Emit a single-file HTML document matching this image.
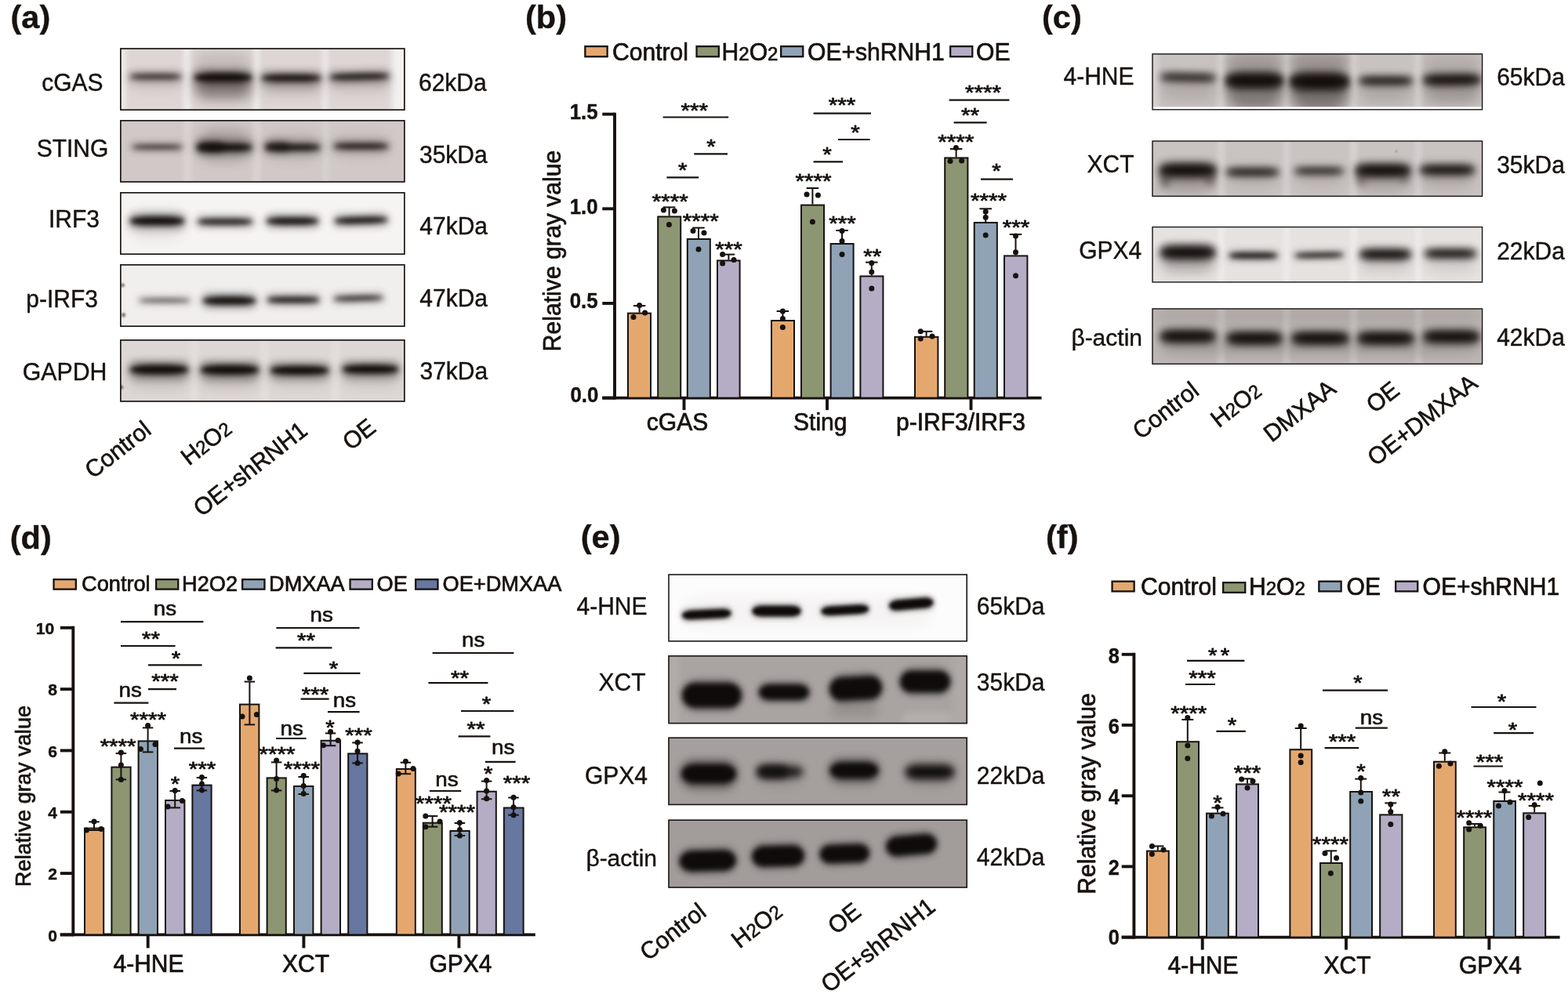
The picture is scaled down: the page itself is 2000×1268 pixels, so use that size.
<!DOCTYPE html>
<html lang="en">
<head>
<meta charset="utf-8">
<title>Figure: cGAS-STING pathway western blots and quantification</title>
<style>
html,body{margin:0;padding:0;background:#ffffff;}
body{width:2000px;height:1268px;}
svg{display:block;font-family:'Liberation Sans', Arial, Helvetica, sans-serif;fill:#17120f;}
</style>
</head>
<body>
<svg width="2000" height="1268" viewBox="0 0 2000 1268" role="img" aria-label="Western blots and bar charts, panels a to f">
<defs>
<filter id="bl1" color-interpolation-filters="sRGB" x="-50%" y="-200%" width="200%" height="500%"><feGaussianBlur color-interpolation-filters="sRGB" stdDeviation="0.8"/></filter>
<filter id="bl2" color-interpolation-filters="sRGB" x="-50%" y="-200%" width="200%" height="500%"><feGaussianBlur color-interpolation-filters="sRGB" stdDeviation="2"/></filter>
<filter id="bl3" color-interpolation-filters="sRGB" x="-50%" y="-200%" width="200%" height="500%"><feGaussianBlur color-interpolation-filters="sRGB" stdDeviation="3"/></filter>
<filter id="bl4" color-interpolation-filters="sRGB" x="-50%" y="-200%" width="200%" height="500%"><feGaussianBlur color-interpolation-filters="sRGB" stdDeviation="4"/></filter>
<filter id="bl5" color-interpolation-filters="sRGB" x="-50%" y="-200%" width="200%" height="500%"><feGaussianBlur color-interpolation-filters="sRGB" stdDeviation="5"/></filter>
<filter id="bl6" color-interpolation-filters="sRGB" x="-50%" y="-200%" width="200%" height="500%"><feGaussianBlur color-interpolation-filters="sRGB" stdDeviation="6"/></filter>
<filter id="bl8" color-interpolation-filters="sRGB" x="-50%" y="-200%" width="200%" height="500%"><feGaussianBlur color-interpolation-filters="sRGB" stdDeviation="8"/></filter>
<filter id="bl10" color-interpolation-filters="sRGB" x="-50%" y="-200%" width="200%" height="500%"><feGaussianBlur color-interpolation-filters="sRGB" stdDeviation="10"/></filter>
<clipPath id="b1"><rect x="153.00" y="61.20" width="363.70" height="79.80"/></clipPath>
<clipPath id="b2"><rect x="153.00" y="153.00" width="363.70" height="79.80"/></clipPath>
<clipPath id="b3"><rect x="153.00" y="245.00" width="363.70" height="80.00"/></clipPath>
<clipPath id="b4"><rect x="153.00" y="337.00" width="363.70" height="80.00"/></clipPath>
<clipPath id="b5"><rect x="153.00" y="433.00" width="363.70" height="79.80"/></clipPath>
<clipPath id="b6"><rect x="1469.30" y="68.20" width="422.00" height="72.30"/></clipPath>
<clipPath id="b7"><rect x="1469.30" y="179.30" width="422.00" height="71.70"/></clipPath>
<clipPath id="b8"><rect x="1469.30" y="288.90" width="422.00" height="71.70"/></clipPath>
<clipPath id="b9"><rect x="1469.30" y="393.20" width="422.00" height="71.80"/></clipPath>
<clipPath id="b10"><rect x="852.20" y="732.20" width="381.80" height="86.50"/></clipPath>
<clipPath id="b11"><rect x="852.20" y="836.00" width="381.80" height="87.40"/></clipPath>
<clipPath id="b12"><rect x="852.20" y="940.40" width="381.80" height="86.80"/></clipPath>
<clipPath id="b13"><rect x="852.20" y="1045.40" width="381.80" height="87.40"/></clipPath>
</defs>
<rect x="0" y="0" width="2000" height="1268" fill="#ffffff"/>
<text x="13.50" y="36.00" font-size="41.5" font-weight="bold" stroke="#17120f" stroke-width="0.4" stroke-linejoin="round">(a)</text>
<text x="670.00" y="36.00" font-size="41.5" font-weight="bold" stroke="#17120f" stroke-width="0.4" stroke-linejoin="round">(b)</text>
<text x="1329.00" y="36.00" font-size="41.5" font-weight="bold" stroke="#17120f" stroke-width="0.4" stroke-linejoin="round">(c)</text>
<text x="12.80" y="699.50" font-size="41.5" font-weight="bold" stroke="#17120f" stroke-width="0.4" stroke-linejoin="round">(d)</text>
<text x="740.80" y="699.00" font-size="41.5" font-weight="bold" stroke="#17120f" stroke-width="0.4" stroke-linejoin="round">(e)</text>
<text x="1334.00" y="699.00" font-size="41.5" font-weight="bold" stroke="#17120f" stroke-width="0.4" stroke-linejoin="round">(f)</text>
<g clip-path="url(#b1)">
<rect x="153.00" y="61.20" width="363.70" height="79.80" fill="#ddd6d4"/>
<rect x="153.00" y="41.20" width="7.00" height="119.80" fill="#f4f2f1" opacity="0.9" filter="url(#bl3)"/>
<rect x="234.00" y="41.20" width="9.00" height="119.80" fill="#f1eeed" opacity="0.9" filter="url(#bl3)"/>
<rect x="323.00" y="41.20" width="8.00" height="119.80" fill="#f1eeed" opacity="0.9" filter="url(#bl3)"/>
<rect x="411.00" y="41.20" width="7.00" height="119.80" fill="#f1eeed" opacity="0.8" filter="url(#bl3)"/>
<rect x="500.00" y="41.20" width="20.00" height="119.80" fill="#f3f1f0" opacity="1" filter="url(#bl4)"/>
<rect x="248.00" y="96.00" width="73.00" height="30.00" rx="15.00" fill="#3a3230" opacity="0.55" filter="url(#bl8)"/>
<rect x="334.00" y="98.00" width="75.00" height="20.00" rx="10.00" fill="#3a3230" opacity="0.28" filter="url(#bl8)"/>
<rect x="421.00" y="97.00" width="75.00" height="17.00" rx="8.50" fill="#3a3230" opacity="0.22" filter="url(#bl8)"/>
<rect x="166.00" y="97.00" width="65.00" height="15.00" rx="7.50" fill="#3a3230" opacity="0.15" filter="url(#bl8)"/>
<rect x="248.00" y="66.00" width="73.00" height="30.00" rx="15.00" fill="#3a3230" opacity="0.15" filter="url(#bl8)"/>
<g>
<rect x="163.00" y="90.35" width="71.00" height="14.90" rx="7.45" fill="#120d0b" opacity="0.245" filter="url(#bl5)"/>
<rect x="166.00" y="94.30" width="65.00" height="7.00" rx="23.21" ry="3.50" fill="#120d0b" opacity="0.7" filter="url(#bl3)"/>
</g>
<g>
<rect x="245.00" y="87.95" width="79.00" height="21.70" rx="10.85" fill="#120d0b" opacity="0.350" filter="url(#bl5)"/>
<rect x="248.00" y="93.30" width="73.00" height="11.00" rx="26.07" ry="5.50" fill="#120d0b" opacity="1.0" filter="url(#bl3)"/>
</g>
<g>
<rect x="331.00" y="90.35" width="81.00" height="18.30" rx="9.15" fill="#120d0b" opacity="0.322" filter="url(#bl5)"/>
<rect x="334.00" y="95.00" width="75.00" height="9.00" rx="26.79" ry="4.50" fill="#120d0b" opacity="0.92" filter="url(#bl3)"/>
</g>
<g transform="rotate(-1.2 458.50 97.80)">
<rect x="418.00" y="89.50" width="81.00" height="16.60" rx="8.30" fill="#120d0b" opacity="0.297" filter="url(#bl5)"/>
<rect x="421.00" y="93.80" width="75.00" height="8.00" rx="26.79" ry="4.00" fill="#120d0b" opacity="0.85" filter="url(#bl3)"/>
</g>
</g>
<rect x="153.85" y="62.05" width="362.00" height="78.10" fill="none" stroke="#1c1816" stroke-width="1.7"/>
<g clip-path="url(#b2)">
<rect x="153.00" y="153.00" width="363.70" height="79.80" fill="#d0c9c7"/>
<rect x="234.00" y="133.00" width="10.00" height="119.80" fill="#dcd6d4" opacity="0.8" filter="url(#bl3)"/>
<rect x="323.00" y="133.00" width="9.00" height="119.80" fill="#dcd6d4" opacity="0.8" filter="url(#bl3)"/>
<rect x="411.00" y="133.00" width="9.00" height="119.80" fill="#dad4d2" opacity="0.7" filter="url(#bl3)"/>
<rect x="252.00" y="165.00" width="69.00" height="40.00" rx="20.00" fill="#3a3230" opacity="0.28" filter="url(#bl8)"/>
<rect x="339.00" y="172.00" width="69.00" height="30.00" rx="15.00" fill="#3a3230" opacity="0.18" filter="url(#bl8)"/>
<rect x="426.00" y="172.00" width="69.00" height="28.00" rx="14.00" fill="#3a3230" opacity="0.12" filter="url(#bl8)"/>
<g>
<rect x="166.00" y="181.32" width="69.00" height="12.35" rx="6.17" fill="#120d0b" opacity="0.245" filter="url(#bl5)"/>
<rect x="169.00" y="184.75" width="63.00" height="5.50" rx="22.50" ry="2.75" fill="#120d0b" opacity="0.7" filter="url(#bl3)"/>
</g>
<g>
<rect x="249.00" y="178.85" width="75.00" height="18.30" rx="9.15" fill="#120d0b" opacity="0.350" filter="url(#bl5)"/>
<rect x="252.00" y="183.50" width="69.00" height="9.00" rx="24.64" ry="4.50" fill="#120d0b" opacity="1.0" filter="url(#bl3)"/>
</g>
<g>
<rect x="249.00" y="177.50" width="39.00" height="20.00" rx="10.00" fill="#120d0b" opacity="0.210" filter="url(#bl5)"/>
<rect x="252.00" y="182.50" width="33.00" height="10.00" rx="11.79" ry="5.00" fill="#120d0b" opacity="0.6" filter="url(#bl3)"/>
</g>
<g>
<rect x="336.00" y="179.70" width="75.00" height="16.60" rx="8.30" fill="#120d0b" opacity="0.315" filter="url(#bl5)"/>
<rect x="339.00" y="184.00" width="69.00" height="8.00" rx="24.64" ry="4.00" fill="#120d0b" opacity="0.9" filter="url(#bl3)"/>
</g>
<g>
<rect x="336.00" y="177.85" width="35.00" height="18.30" rx="9.15" fill="#120d0b" opacity="0.175" filter="url(#bl5)"/>
<rect x="339.00" y="182.50" width="29.00" height="9.00" rx="10.36" ry="4.50" fill="#120d0b" opacity="0.5" filter="url(#bl3)"/>
</g>
<g>
<rect x="423.00" y="179.05" width="75.00" height="14.90" rx="7.45" fill="#120d0b" opacity="0.297" filter="url(#bl5)"/>
<rect x="426.00" y="183.00" width="69.00" height="7.00" rx="24.64" ry="3.50" fill="#120d0b" opacity="0.85" filter="url(#bl3)"/>
</g>
</g>
<rect x="153.85" y="153.85" width="362.00" height="78.10" fill="none" stroke="#1c1816" stroke-width="1.7"/>
<g clip-path="url(#b3)">
<rect x="153.00" y="245.00" width="363.70" height="80.00" fill="#f6f4f3"/>
<rect x="166.00" y="270.00" width="69.00" height="35.00" rx="17.50" fill="#3a3230" opacity="0.1" filter="url(#bl8)"/>
<g>
<rect x="163.00" y="270.95" width="75.00" height="21.70" rx="10.85" fill="#120d0b" opacity="0.343" filter="url(#bl5)"/>
<rect x="166.00" y="276.30" width="69.00" height="11.00" rx="24.64" ry="5.50" fill="#120d0b" opacity="0.98" filter="url(#bl3)"/>
</g>
<g>
<rect x="249.00" y="274.50" width="76.00" height="16.60" rx="8.30" fill="#120d0b" opacity="0.297" filter="url(#bl5)"/>
<rect x="252.00" y="278.80" width="70.00" height="8.00" rx="25.00" ry="4.00" fill="#120d0b" opacity="0.85" filter="url(#bl3)"/>
</g>
<g>
<rect x="337.00" y="272.43" width="72.00" height="19.15" rx="9.57" fill="#120d0b" opacity="0.326" filter="url(#bl5)"/>
<rect x="340.00" y="277.25" width="66.00" height="9.50" rx="23.57" ry="4.75" fill="#120d0b" opacity="0.93" filter="url(#bl3)"/>
</g>
<g transform="rotate(-1.5 460.50 281.00)">
<rect x="424.00" y="272.27" width="73.00" height="17.45" rx="8.72" fill="#120d0b" opacity="0.315" filter="url(#bl5)"/>
<rect x="427.00" y="276.75" width="67.00" height="8.50" rx="23.93" ry="4.25" fill="#120d0b" opacity="0.9" filter="url(#bl3)"/>
</g>
</g>
<rect x="153.85" y="245.85" width="362.00" height="78.30" fill="none" stroke="#1c1816" stroke-width="1.7"/>
<g clip-path="url(#b4)">
<rect x="153.00" y="337.00" width="363.70" height="80.00" fill="#f1efee"/>
<g>
<rect x="175.00" y="377.55" width="70.00" height="11.50" rx="5.75" fill="#120d0b" opacity="0.196" filter="url(#bl5)"/>
<rect x="178.00" y="380.80" width="64.00" height="5.00" rx="22.86" ry="2.50" fill="#120d0b" opacity="0.56" filter="url(#bl3)"/>
</g>
<g>
<rect x="256.00" y="373.18" width="73.00" height="20.85" rx="10.42" fill="#120d0b" opacity="0.339" filter="url(#bl5)"/>
<rect x="259.00" y="378.35" width="67.00" height="10.50" rx="23.93" ry="5.25" fill="#120d0b" opacity="0.97" filter="url(#bl3)"/>
</g>
<g>
<rect x="338.00" y="374.62" width="72.00" height="15.75" rx="7.88" fill="#120d0b" opacity="0.308" filter="url(#bl5)"/>
<rect x="341.00" y="378.75" width="66.00" height="7.50" rx="23.57" ry="3.75" fill="#120d0b" opacity="0.88" filter="url(#bl3)"/>
</g>
<g transform="rotate(-1.5 457.00 380.50)">
<rect x="423.00" y="373.48" width="68.00" height="14.05" rx="7.02" fill="#120d0b" opacity="0.262" filter="url(#bl5)"/>
<rect x="426.00" y="377.25" width="62.00" height="6.50" rx="22.14" ry="3.25" fill="#120d0b" opacity="0.75" filter="url(#bl3)"/>
</g>
<circle cx="156.5" cy="363.7" r="2.5" fill="#6a6260" opacity="0.8" filter="url(#bl1)"/>
<circle cx="157.5" cy="401.7" r="2.8" fill="#6a6260" opacity="0.8" filter="url(#bl1)"/>
</g>
<rect x="153.85" y="337.85" width="362.00" height="78.30" fill="none" stroke="#1c1816" stroke-width="1.7"/>
<g clip-path="url(#b5)">
<rect x="153.00" y="433.00" width="363.70" height="79.80" fill="#ddd7d5"/>
<rect x="243.00" y="413.00" width="10.00" height="119.80" fill="#ebe7e6" opacity="0.45" filter="url(#bl3)"/>
<rect x="332.00" y="413.00" width="10.00" height="119.80" fill="#ebe7e6" opacity="0.45" filter="url(#bl3)"/>
<rect x="423.00" y="413.00" width="10.00" height="119.80" fill="#ebe7e6" opacity="0.45" filter="url(#bl3)"/>
<rect x="166.00" y="470.00" width="74.00" height="22.00" rx="11.00" fill="#3a3230" opacity="0.22" filter="url(#bl8)"/>
<rect x="256.00" y="470.00" width="74.00" height="22.00" rx="11.00" fill="#3a3230" opacity="0.25" filter="url(#bl8)"/>
<rect x="345.00" y="470.00" width="74.00" height="20.00" rx="10.00" fill="#3a3230" opacity="0.2" filter="url(#bl8)"/>
<rect x="437.00" y="470.00" width="71.00" height="20.00" rx="10.00" fill="#3a3230" opacity="0.2" filter="url(#bl8)"/>
<g>
<rect x="163.00" y="459.80" width="80.00" height="23.40" rx="11.70" fill="#120d0b" opacity="0.350" filter="url(#bl5)"/>
<rect x="166.00" y="465.50" width="74.00" height="12.00" rx="26.43" ry="6.00" fill="#120d0b" opacity="1.0" filter="url(#bl3)"/>
</g>
<g>
<rect x="253.00" y="460.10" width="80.00" height="23.40" rx="11.70" fill="#120d0b" opacity="0.350" filter="url(#bl5)"/>
<rect x="256.00" y="465.80" width="74.00" height="12.00" rx="26.43" ry="6.00" fill="#120d0b" opacity="1.0" filter="url(#bl3)"/>
</g>
<g>
<rect x="342.00" y="461.65" width="80.00" height="21.70" rx="10.85" fill="#120d0b" opacity="0.350" filter="url(#bl5)"/>
<rect x="345.00" y="467.00" width="74.00" height="11.00" rx="26.43" ry="5.50" fill="#120d0b" opacity="1.0" filter="url(#bl3)"/>
</g>
<g>
<rect x="434.00" y="460.15" width="77.00" height="21.70" rx="10.85" fill="#120d0b" opacity="0.350" filter="url(#bl5)"/>
<rect x="437.00" y="465.50" width="71.00" height="11.00" rx="25.36" ry="5.50" fill="#120d0b" opacity="1.0" filter="url(#bl3)"/>
</g>
<circle cx="154.5" cy="494" r="2.5" fill="#4a4240" opacity="0.8" filter="url(#bl1)"/>
</g>
<rect x="153.85" y="433.85" width="362.00" height="78.10" fill="none" stroke="#1c1816" stroke-width="1.7"/>
<text x="131.60" y="116.00" font-size="30" text-anchor="end" transform="translate(131.60 116.00) scale(1.0 1.02) translate(-131.60 -116.00)" stroke="#17120f" stroke-width="0.4" stroke-linejoin="round">cGAS</text>
<text x="138.30" y="199.80" font-size="30" text-anchor="end" transform="translate(138.30 199.80) scale(1.0 1.02) translate(-138.30 -199.80)" stroke="#17120f" stroke-width="0.4" stroke-linejoin="round">STING</text>
<text x="127.00" y="290.00" font-size="30" text-anchor="end" transform="translate(127.00 290.00) scale(1.0 1.02) translate(-127.00 -290.00)" stroke="#17120f" stroke-width="0.4" stroke-linejoin="round">IRF3</text>
<text x="125.00" y="392.00" font-size="30" text-anchor="end" transform="translate(125.00 392.00) scale(1.0 1.02) translate(-125.00 -392.00)" stroke="#17120f" stroke-width="0.4" stroke-linejoin="round">p-IRF3</text>
<text x="136.50" y="485.00" font-size="30.3" text-anchor="end" transform="translate(136.50 485.00) scale(1.0 1.02) translate(-136.50 -485.00)" stroke="#17120f" stroke-width="0.4" stroke-linejoin="round">GAPDH</text>
<text x="534.00" y="116.00" font-size="30" transform="translate(534.00 116.00) scale(1.0 1.02) translate(-534.00 -116.00)" stroke="#17120f" stroke-width="0.4" stroke-linejoin="round">62kDa</text>
<text x="535.00" y="207.60" font-size="30" transform="translate(535.00 207.60) scale(1.0 1.02) translate(-535.00 -207.60)" stroke="#17120f" stroke-width="0.4" stroke-linejoin="round">35kDa</text>
<text x="535.30" y="299.30" font-size="30" transform="translate(535.30 299.30) scale(1.0 1.02) translate(-535.30 -299.30)" stroke="#17120f" stroke-width="0.4" stroke-linejoin="round">47kDa</text>
<text x="535.30" y="391.30" font-size="30" transform="translate(535.30 391.30) scale(1.0 1.02) translate(-535.30 -391.30)" stroke="#17120f" stroke-width="0.4" stroke-linejoin="round">47kDa</text>
<text x="535.50" y="484.40" font-size="30" transform="translate(535.50 484.40) scale(1.0 1.02) translate(-535.50 -484.40)" stroke="#17120f" stroke-width="0.4" stroke-linejoin="round">37kDa</text>
<text x="118.50" y="611.50" font-size="30" transform="rotate(-38 118.50 611.50) translate(118.50 611.50) scale(1.0 1.02) translate(-118.50 -611.50)" stroke="#17120f" stroke-width="0.6" stroke-linejoin="round">Control</text>
<text x="241.00" y="594.70" font-size="30" transform="rotate(-38 241.00 594.70) translate(241.00 594.70) scale(1.0 1.02) translate(-241.00 -594.70)" stroke="#17120f" stroke-width="0.6" stroke-linejoin="round">H<tspan font-size="0.8em">2</tspan>O<tspan font-size="0.8em">2</tspan></text>
<text x="257.00" y="660.00" font-size="30" transform="rotate(-38 257.00 660.00) translate(257.00 660.00) scale(1.0 1.02) translate(-257.00 -660.00)" stroke="#17120f" stroke-width="0.6" stroke-linejoin="round">OE+shRNH1</text>
<text x="447.20" y="575.50" font-size="30" transform="rotate(-38 447.20 575.50) translate(447.20 575.50) scale(1.0 1.02) translate(-447.20 -575.50)" stroke="#17120f" stroke-width="0.6" stroke-linejoin="round">OE</text>
<g clip-path="url(#b6)">
<rect x="1469.30" y="68.20" width="422.00" height="72.30" fill="#c8c2c0"/>
<rect x="1469.00" y="48.20" width="9.00" height="112.30" fill="#dedad8" opacity="0.7" filter="url(#bl3)"/>
<rect x="1553.00" y="48.20" width="9.00" height="112.30" fill="#dedad8" opacity="0.75" filter="url(#bl3)"/>
<rect x="1637.00" y="48.20" width="8.00" height="112.30" fill="#dedad8" opacity="0.75" filter="url(#bl3)"/>
<rect x="1722.00" y="48.20" width="9.00" height="112.30" fill="#dedad8" opacity="0.75" filter="url(#bl3)"/>
<rect x="1805.00" y="48.20" width="8.00" height="112.30" fill="#dedad8" opacity="0.75" filter="url(#bl3)"/>
<rect x="1564.00" y="95.00" width="72.00" height="45.00" rx="22.50" fill="#3a3230" opacity="0.5" filter="url(#bl8)"/>
<rect x="1646.00" y="95.00" width="74.00" height="47.00" rx="23.50" fill="#3a3230" opacity="0.55" filter="url(#bl8)"/>
<rect x="1816.00" y="98.00" width="72.00" height="34.00" rx="17.00" fill="#3a3230" opacity="0.28" filter="url(#bl8)"/>
<rect x="1481.00" y="98.00" width="69.00" height="30.00" rx="15.00" fill="#3a3230" opacity="0.15" filter="url(#bl8)"/>
<rect x="1734.00" y="100.00" width="67.00" height="30.00" rx="15.00" fill="#3a3230" opacity="0.18" filter="url(#bl8)"/>
<rect x="1564.00" y="66.00" width="72.00" height="29.00" rx="14.50" fill="#3a3230" opacity="0.28" filter="url(#bl8)"/>
<rect x="1646.00" y="66.00" width="74.00" height="29.00" rx="14.50" fill="#3a3230" opacity="0.32" filter="url(#bl8)"/>
<rect x="1816.00" y="70.00" width="72.00" height="28.00" rx="14.00" fill="#3a3230" opacity="0.15" filter="url(#bl8)"/>
<g transform="rotate(1.0 1515.50 98.80)">
<rect x="1478.50" y="91.17" width="74.00" height="15.25" rx="7.62" fill="#120d0b" opacity="0.280" filter="url(#bl5)"/>
<rect x="1481.00" y="94.55" width="69.00" height="8.50" rx="19.17" ry="4.25" fill="#120d0b" opacity="0.8" filter="url(#bl4)"/>
</g>
<g>
<rect x="1561.50" y="90.30" width="77.00" height="25.00" rx="12.50" fill="#120d0b" opacity="0.500" filter="url(#bl5)"/>
<rect x="1564.00" y="95.30" width="72.00" height="15.00" rx="20.00" ry="7.50" fill="#120d0b" opacity="1.0" filter="url(#bl4)"/>
</g>
<g>
<rect x="1643.50" y="90.38" width="79.00" height="27.25" rx="13.62" fill="#120d0b" opacity="0.500" filter="url(#bl5)"/>
<rect x="1646.00" y="95.75" width="74.00" height="16.50" rx="20.56" ry="8.25" fill="#120d0b" opacity="1.0" filter="url(#bl4)"/>
</g>
<g>
<rect x="1731.50" y="95.38" width="72.00" height="15.25" rx="7.62" fill="#120d0b" opacity="0.315" filter="url(#bl5)"/>
<rect x="1734.00" y="98.75" width="67.00" height="8.50" rx="18.61" ry="4.25" fill="#120d0b" opacity="0.9" filter="url(#bl4)"/>
</g>
<g transform="rotate(-0.5 1852.00 101.80)">
<rect x="1813.50" y="91.92" width="77.00" height="19.75" rx="9.88" fill="#120d0b" opacity="0.336" filter="url(#bl5)"/>
<rect x="1816.00" y="96.05" width="72.00" height="11.50" rx="20.00" ry="5.75" fill="#120d0b" opacity="0.96" filter="url(#bl4)"/>
</g>
<rect x="1469.00" y="136.30" width="423.00" height="4.70" fill="#ffffff"/>
</g>
<rect x="1470.00" y="68.90" width="420.60" height="70.90" fill="none" stroke="#1c1816" stroke-width="1.4"/>
<g clip-path="url(#b7)">
<rect x="1469.30" y="179.30" width="422.00" height="71.70" fill="#c9c3c1"/>
<rect x="1553.00" y="159.30" width="9.00" height="111.70" fill="#dcd8d6" opacity="0.7" filter="url(#bl3)"/>
<rect x="1637.00" y="159.30" width="8.00" height="111.70" fill="#dcd8d6" opacity="0.7" filter="url(#bl3)"/>
<rect x="1722.00" y="159.30" width="9.00" height="111.70" fill="#dcd8d6" opacity="0.7" filter="url(#bl3)"/>
<rect x="1805.00" y="159.30" width="8.00" height="111.70" fill="#dcd8d6" opacity="0.7" filter="url(#bl3)"/>
<rect x="1480.00" y="210.00" width="70.00" height="34.00" rx="17.00" fill="#3a3230" opacity="0.3" filter="url(#bl8)"/>
<rect x="1730.00" y="212.00" width="68.00" height="30.00" rx="15.00" fill="#3a3230" opacity="0.26" filter="url(#bl8)"/>
<rect x="1812.00" y="212.00" width="68.00" height="26.00" rx="13.00" fill="#3a3230" opacity="0.2" filter="url(#bl8)"/>
<rect x="1565.00" y="214.00" width="65.00" height="24.00" rx="12.00" fill="#3a3230" opacity="0.14" filter="url(#bl8)"/>
<rect x="1652.00" y="214.00" width="61.00" height="24.00" rx="12.00" fill="#3a3230" opacity="0.12" filter="url(#bl8)"/>
<rect x="1480.00" y="220.00" width="12.00" height="20.00" rx="6.00" fill="#3a3230" opacity="0.45" filter="url(#bl4)"/>
<rect x="1538.00" y="220.00" width="12.00" height="18.00" rx="6.00" fill="#3a3230" opacity="0.4" filter="url(#bl4)"/>
<rect x="1730.00" y="220.00" width="12.00" height="18.00" rx="6.00" fill="#3a3230" opacity="0.35" filter="url(#bl4)"/>
<rect x="1786.00" y="220.00" width="12.00" height="16.00" rx="6.00" fill="#3a3230" opacity="0.25" filter="url(#bl4)"/>
<g>
<rect x="1477.50" y="205.93" width="75.00" height="22.75" rx="11.38" fill="#120d0b" opacity="0.450" filter="url(#bl5)"/>
<rect x="1480.00" y="210.55" width="70.00" height="13.50" rx="20.59" ry="6.75" fill="#120d0b" opacity="1.0" filter="url(#bl4)"/>
</g>
<g>
<rect x="1562.50" y="212.62" width="70.00" height="13.75" rx="6.88" fill="#120d0b" opacity="0.326" filter="url(#bl5)"/>
<rect x="1565.00" y="215.75" width="65.00" height="7.50" rx="19.12" ry="3.75" fill="#120d0b" opacity="0.93" filter="url(#bl4)"/>
</g>
<g>
<rect x="1649.50" y="211.88" width="66.00" height="12.25" rx="6.12" fill="#120d0b" opacity="0.304" filter="url(#bl5)"/>
<rect x="1652.00" y="214.75" width="61.00" height="6.50" rx="17.94" ry="3.25" fill="#120d0b" opacity="0.87" filter="url(#bl4)"/>
</g>
<g>
<rect x="1727.50" y="206.88" width="73.00" height="21.25" rx="10.62" fill="#120d0b" opacity="0.450" filter="url(#bl5)"/>
<rect x="1730.00" y="211.25" width="68.00" height="12.50" rx="20.00" ry="6.25" fill="#120d0b" opacity="1.0" filter="url(#bl4)"/>
</g>
<g>
<rect x="1809.50" y="208.05" width="73.00" height="17.50" rx="8.75" fill="#120d0b" opacity="0.336" filter="url(#bl5)"/>
<rect x="1812.00" y="211.80" width="68.00" height="10.00" rx="20.00" ry="5.00" fill="#120d0b" opacity="0.96" filter="url(#bl4)"/>
</g>
<circle cx="1781" cy="193" r="1.2" fill="#6a6260" opacity="0.7" filter="url(#bl1)"/>
</g>
<rect x="1470.00" y="180.00" width="420.60" height="70.30" fill="none" stroke="#1c1816" stroke-width="1.4"/>
<g clip-path="url(#b8)">
<rect x="1469.30" y="288.90" width="422.00" height="71.70" fill="#e6e2e0"/>
<rect x="1553.00" y="268.90" width="9.00" height="111.70" fill="#f3f1f0" opacity="0.6" filter="url(#bl3)"/>
<rect x="1637.00" y="268.90" width="8.00" height="111.70" fill="#f3f1f0" opacity="0.6" filter="url(#bl3)"/>
<rect x="1722.00" y="268.90" width="9.00" height="111.70" fill="#f3f1f0" opacity="0.6" filter="url(#bl3)"/>
<rect x="1805.00" y="268.90" width="8.00" height="111.70" fill="#f3f1f0" opacity="0.6" filter="url(#bl3)"/>
<rect x="1481.00" y="318.00" width="68.00" height="29.00" rx="14.50" fill="#3a3230" opacity="0.32" filter="url(#bl8)"/>
<rect x="1735.00" y="320.00" width="64.00" height="26.00" rx="13.00" fill="#3a3230" opacity="0.16" filter="url(#bl8)"/>
<rect x="1818.00" y="320.00" width="64.00" height="26.00" rx="13.00" fill="#3a3230" opacity="0.13" filter="url(#bl8)"/>
<g>
<rect x="1478.50" y="310.62" width="73.00" height="22.75" rx="11.38" fill="#120d0b" opacity="0.450" filter="url(#bl5)"/>
<rect x="1481.00" y="315.25" width="68.00" height="13.50" rx="21.25" ry="6.75" fill="#120d0b" opacity="1.0" filter="url(#bl4)"/>
</g>
<g>
<rect x="1565.50" y="319.50" width="66.00" height="13.00" rx="6.50" fill="#120d0b" opacity="0.326" filter="url(#bl5)"/>
<rect x="1568.00" y="322.50" width="61.00" height="7.00" rx="19.06" ry="3.50" fill="#120d0b" opacity="0.93" filter="url(#bl3)"/>
</g>
<g transform="rotate(-1 1682.50 325.40)">
<rect x="1649.50" y="319.65" width="66.00" height="11.50" rx="5.75" fill="#120d0b" opacity="0.297" filter="url(#bl5)"/>
<rect x="1652.00" y="322.40" width="61.00" height="6.00" rx="19.06" ry="3.00" fill="#120d0b" opacity="0.85" filter="url(#bl3)"/>
</g>
<g>
<rect x="1732.50" y="315.00" width="69.00" height="19.00" rx="9.50" fill="#120d0b" opacity="0.343" filter="url(#bl5)"/>
<rect x="1735.00" y="319.00" width="64.00" height="11.00" rx="20.00" ry="5.50" fill="#120d0b" opacity="0.98" filter="url(#bl4)"/>
</g>
<g>
<rect x="1815.50" y="315.50" width="69.00" height="16.00" rx="8.00" fill="#120d0b" opacity="0.339" filter="url(#bl5)"/>
<rect x="1818.00" y="319.00" width="64.00" height="9.00" rx="20.00" ry="4.50" fill="#120d0b" opacity="0.97" filter="url(#bl4)"/>
</g>
</g>
<rect x="1470.00" y="289.60" width="420.60" height="70.30" fill="none" stroke="#1c1816" stroke-width="1.4"/>
<g clip-path="url(#b9)">
<rect x="1469.30" y="393.20" width="422.00" height="71.80" fill="#bdb7b5"/>
<rect x="1553.00" y="373.20" width="9.00" height="111.80" fill="#d6d1cf" opacity="0.6" filter="url(#bl3)"/>
<rect x="1637.00" y="373.20" width="8.00" height="111.80" fill="#d6d1cf" opacity="0.6" filter="url(#bl3)"/>
<rect x="1722.00" y="373.20" width="9.00" height="111.80" fill="#d6d1cf" opacity="0.6" filter="url(#bl3)"/>
<rect x="1805.00" y="373.20" width="8.00" height="111.80" fill="#d6d1cf" opacity="0.6" filter="url(#bl3)"/>
<rect x="1475.00" y="393.00" width="415.00" height="19.00" rx="9.50" fill="#3a3230" opacity="0.12" filter="url(#bl8)"/>
<rect x="1481.00" y="425.00" width="405.00" height="27.00" rx="13.50" fill="#3a3230" opacity="0.2" filter="url(#bl8)"/>
<g>
<rect x="1478.50" y="418.38" width="73.00" height="21.25" rx="10.62" fill="#120d0b" opacity="0.450" filter="url(#bl5)"/>
<rect x="1481.00" y="422.75" width="68.00" height="12.50" rx="20.00" ry="6.25" fill="#120d0b" opacity="1.0" filter="url(#bl4)"/>
</g>
<g>
<rect x="1563.50" y="420.88" width="73.00" height="21.25" rx="10.62" fill="#120d0b" opacity="0.450" filter="url(#bl5)"/>
<rect x="1566.00" y="425.25" width="68.00" height="12.50" rx="20.00" ry="6.25" fill="#120d0b" opacity="1.0" filter="url(#bl4)"/>
</g>
<g>
<rect x="1646.50" y="420.88" width="75.00" height="21.25" rx="10.62" fill="#120d0b" opacity="0.450" filter="url(#bl5)"/>
<rect x="1649.00" y="425.25" width="70.00" height="12.50" rx="20.59" ry="6.25" fill="#120d0b" opacity="1.0" filter="url(#bl4)"/>
</g>
<g>
<rect x="1730.50" y="420.88" width="74.00" height="21.25" rx="10.62" fill="#120d0b" opacity="0.450" filter="url(#bl5)"/>
<rect x="1733.00" y="425.25" width="69.00" height="12.50" rx="20.29" ry="6.25" fill="#120d0b" opacity="1.0" filter="url(#bl4)"/>
</g>
<g>
<rect x="1814.50" y="418.88" width="74.00" height="21.25" rx="10.62" fill="#120d0b" opacity="0.450" filter="url(#bl5)"/>
<rect x="1817.00" y="423.25" width="69.00" height="12.50" rx="20.29" ry="6.25" fill="#120d0b" opacity="1.0" filter="url(#bl4)"/>
</g>
</g>
<rect x="1470.00" y="393.90" width="420.60" height="70.40" fill="none" stroke="#1c1816" stroke-width="1.4"/>
<text x="1446.50" y="108.00" font-size="30" text-anchor="end" transform="translate(1446.50 108.00) scale(1.0 1.02) translate(-1446.50 -108.00)" stroke="#17120f" stroke-width="0.4" stroke-linejoin="round">4-HNE</text>
<text x="1446.50" y="220.50" font-size="30" text-anchor="end" transform="translate(1446.50 220.50) scale(1.0 1.02) translate(-1446.50 -220.50)" stroke="#17120f" stroke-width="0.4" stroke-linejoin="round">XCT</text>
<text x="1456.30" y="330.00" font-size="30" text-anchor="end" transform="translate(1456.30 330.00) scale(1.0 1.02) translate(-1456.30 -330.00)" stroke="#17120f" stroke-width="0.4" stroke-linejoin="round">GPX4</text>
<text x="1457.00" y="440.60" font-size="30" text-anchor="end" stroke="#17120f" stroke-width="0.4" stroke-linejoin="round">β-actin</text>
<text x="1909.20" y="109.00" font-size="30" transform="translate(1909.20 109.00) scale(1.0 1.02) translate(-1909.20 -109.00)" stroke="#17120f" stroke-width="0.4" stroke-linejoin="round">65kDa</text>
<text x="1909.20" y="221.50" font-size="30" transform="translate(1909.20 221.50) scale(1.0 1.02) translate(-1909.20 -221.50)" stroke="#17120f" stroke-width="0.4" stroke-linejoin="round">35kDa</text>
<text x="1909.20" y="331.00" font-size="30" transform="translate(1909.20 331.00) scale(1.0 1.02) translate(-1909.20 -331.00)" stroke="#17120f" stroke-width="0.4" stroke-linejoin="round">22kDa</text>
<text x="1909.20" y="441.50" font-size="30" transform="translate(1909.20 441.50) scale(1.0 1.02) translate(-1909.20 -441.50)" stroke="#17120f" stroke-width="0.4" stroke-linejoin="round">42kDa</text>
<text x="1455.00" y="561.50" font-size="30" transform="rotate(-38 1455.00 561.50) translate(1455.00 561.50) scale(1.0 1.02) translate(-1455.00 -561.50)" stroke="#17120f" stroke-width="0.6" stroke-linejoin="round">Control</text>
<text x="1554.50" y="546.50" font-size="30" transform="rotate(-38 1554.50 546.50) translate(1554.50 546.50) scale(1.0 1.02) translate(-1554.50 -546.50)" stroke="#17120f" stroke-width="0.6" stroke-linejoin="round">H<tspan font-size="0.8em">2</tspan>O<tspan font-size="0.8em">2</tspan></text>
<text x="1622.00" y="565.00" font-size="30" transform="rotate(-38 1622.00 565.00) translate(1622.00 565.00) scale(1.0 1.02) translate(-1622.00 -565.00)" stroke="#17120f" stroke-width="0.6" stroke-linejoin="round">DMXAA</text>
<text x="1753.00" y="528.00" font-size="30" transform="rotate(-38 1753.00 528.00) translate(1753.00 528.00) scale(1.0 1.02) translate(-1753.00 -528.00)" stroke="#17120f" stroke-width="0.6" stroke-linejoin="round">OE</text>
<text x="1754.50" y="595.50" font-size="30" transform="rotate(-38 1754.50 595.50) translate(1754.50 595.50) scale(1.0 1.02) translate(-1754.50 -595.50)" stroke="#17120f" stroke-width="0.6" stroke-linejoin="round">OE+DMXAA</text>
<g clip-path="url(#b10)">
<rect x="852.20" y="732.20" width="381.80" height="86.50" fill="#fdfcfc"/>
<rect x="871.00" y="762.00" width="318.00" height="38.00" rx="19.00" fill="#3a3230" opacity="0.04" filter="url(#bl8)"/>
<g transform="rotate(-2.8 901.25 783.60)">
<rect x="868.00" y="775.12" width="66.50" height="16.95" rx="8.48" fill="#0e0b0a" opacity="0.300" filter="url(#bl3)"/>
<rect x="870.00" y="777.85" width="62.50" height="11.50" rx="12.50" ry="5.75" fill="#0e0b0a" opacity="1.0" filter="url(#bl2)"/>
</g>
<g>
<rect x="957.50" y="769.62" width="66.00" height="19.55" rx="9.78" fill="#0e0b0a" opacity="0.300" filter="url(#bl3)"/>
<rect x="959.50" y="772.65" width="62.00" height="13.50" rx="12.40" ry="6.75" fill="#0e0b0a" opacity="1.0" filter="url(#bl2)"/>
</g>
<g transform="rotate(-3.2 1077.75 778.30)">
<rect x="1045.50" y="769.82" width="64.50" height="16.95" rx="8.48" fill="#0e0b0a" opacity="0.300" filter="url(#bl3)"/>
<rect x="1047.50" y="772.55" width="60.50" height="11.50" rx="12.10" ry="5.75" fill="#0e0b0a" opacity="1.0" filter="url(#bl2)"/>
</g>
<g transform="rotate(-5 1162.25 770.60)">
<rect x="1132.00" y="761.15" width="60.50" height="18.90" rx="9.45" fill="#0e0b0a" opacity="0.300" filter="url(#bl3)"/>
<rect x="1134.00" y="764.10" width="56.50" height="13.00" rx="11.30" ry="6.50" fill="#0e0b0a" opacity="1.0" filter="url(#bl2)"/>
</g>
</g>
<rect x="853.00" y="733.00" width="380.20" height="84.90" fill="none" stroke="#1c1816" stroke-width="1.6"/>
<g clip-path="url(#b11)">
<rect x="852.20" y="836.00" width="381.80" height="87.40" fill="#a9a3a1"/>
<rect x="852.00" y="816.00" width="14.00" height="127.40" fill="#b8b2b0" opacity="0.6" filter="url(#bl4)"/>
<rect x="1215.00" y="816.00" width="21.00" height="127.40" fill="#b4aeac" opacity="0.6" filter="url(#bl4)"/>
<rect x="1150.00" y="908.00" width="65.00" height="18.00" rx="9.00" fill="#d8d4d2" opacity="0.25" filter="url(#bl5)"/>
<rect x="1060.00" y="895.00" width="60.00" height="20.00" rx="10.00" fill="#1a1412" opacity="0.12" filter="url(#bl6)"/>
<g>
<rect x="868.00" y="866.38" width="80.00" height="41.25" rx="20.62" fill="#0e0b0a" opacity="0.350" filter="url(#bl4)"/>
<rect x="870.50" y="871.50" width="75.00" height="31.00" rx="16.67" ry="15.50" fill="#0e0b0a" opacity="1.0" filter="url(#bl3)"/>
</g>
<g>
<rect x="966.00" y="869.56" width="68.00" height="26.88" rx="13.44" fill="#0e0b0a" opacity="0.350" filter="url(#bl4)"/>
<rect x="968.50" y="873.25" width="63.00" height="19.50" rx="14.00" ry="9.75" fill="#0e0b0a" opacity="1.0" filter="url(#bl3)"/>
</g>
<g transform="rotate(-3 1091.50 878.00)">
<rect x="1056.00" y="858.62" width="71.00" height="38.75" rx="19.38" fill="#0e0b0a" opacity="0.350" filter="url(#bl4)"/>
<rect x="1058.50" y="863.50" width="66.00" height="29.00" rx="14.67" ry="14.50" fill="#0e0b0a" opacity="1.0" filter="url(#bl3)"/>
</g>
<g>
<rect x="1146.00" y="851.38" width="68.00" height="36.25" rx="18.12" fill="#0e0b0a" opacity="0.350" filter="url(#bl4)"/>
<rect x="1148.50" y="856.00" width="63.00" height="27.00" rx="14.00" ry="13.50" fill="#0e0b0a" opacity="1.0" filter="url(#bl3)"/>
</g>
</g>
<rect x="853.00" y="836.80" width="380.20" height="85.80" fill="none" stroke="#1c1816" stroke-width="1.6"/>
<g clip-path="url(#b12)">
<rect x="852.20" y="940.40" width="381.80" height="86.80" fill="#a59f9d"/>
<rect x="870.00" y="975.00" width="68.00" height="31.00" rx="15.50" fill="#1a1412" opacity="0.25" filter="url(#bl8)"/>
<rect x="1060.00" y="972.00" width="59.00" height="28.00" rx="14.00" fill="#1a1412" opacity="0.2" filter="url(#bl8)"/>
<rect x="1157.00" y="975.00" width="58.00" height="25.00" rx="12.50" fill="#1a1412" opacity="0.2" filter="url(#bl8)"/>
<rect x="968.00" y="975.00" width="54.00" height="25.00" rx="12.50" fill="#1a1412" opacity="0.15" filter="url(#bl8)"/>
<g>
<rect x="866.50" y="968.70" width="75.00" height="36.60" rx="18.30" fill="#0e0b0a" opacity="0.350" filter="url(#bl5)"/>
<rect x="869.50" y="975.00" width="69.00" height="24.00" rx="17.25" ry="12.00" fill="#0e0b0a" opacity="1.0" filter="url(#bl3)"/>
</g>
<g>
<rect x="964.00" y="974.95" width="62.00" height="19.10" rx="9.55" fill="#0e0b0a" opacity="0.280" filter="url(#bl5)"/>
<rect x="967.00" y="978.75" width="56.00" height="11.50" rx="14.00" ry="5.75" fill="#0e0b0a" opacity="0.8" filter="url(#bl4)"/>
</g>
<g>
<rect x="964.00" y="973.20" width="43.00" height="22.60" rx="11.30" fill="#0e0b0a" opacity="0.225" filter="url(#bl5)"/>
<rect x="967.00" y="977.50" width="37.00" height="14.00" rx="9.25" ry="7.00" fill="#0e0b0a" opacity="0.75" filter="url(#bl4)"/>
</g>
<g>
<rect x="1056.00" y="967.30" width="67.00" height="31.00" rx="15.50" fill="#0e0b0a" opacity="0.350" filter="url(#bl5)"/>
<rect x="1059.00" y="972.80" width="61.00" height="20.00" rx="15.25" ry="10.00" fill="#0e0b0a" opacity="1.0" filter="url(#bl3)"/>
</g>
<g>
<rect x="1153.00" y="972.80" width="66.00" height="24.00" rx="12.00" fill="#0e0b0a" opacity="0.343" filter="url(#bl5)"/>
<rect x="1156.00" y="977.30" width="60.00" height="15.00" rx="15.00" ry="7.50" fill="#0e0b0a" opacity="0.98" filter="url(#bl4)"/>
</g>
</g>
<rect x="853.00" y="941.20" width="380.20" height="85.20" fill="none" stroke="#1c1816" stroke-width="1.6"/>
<g clip-path="url(#b13)">
<rect x="852.20" y="1045.40" width="381.80" height="87.40" fill="#a29c9a"/>
<g transform="rotate(-1.5 902.75 1098.00)">
<rect x="864.50" y="1080.50" width="76.50" height="35.00" rx="17.50" fill="#0e0b0a" opacity="0.300" filter="url(#bl4)"/>
<rect x="867.00" y="1085.00" width="71.50" height="26.00" rx="15.89" ry="13.00" fill="#0e0b0a" opacity="1.0" filter="url(#bl3)"/>
</g>
<g transform="rotate(-1.5 992.50 1092.00)">
<rect x="957.00" y="1074.50" width="71.00" height="35.00" rx="17.50" fill="#0e0b0a" opacity="0.300" filter="url(#bl4)"/>
<rect x="959.50" y="1079.00" width="66.00" height="26.00" rx="14.67" ry="13.00" fill="#0e0b0a" opacity="1.0" filter="url(#bl3)"/>
</g>
<g transform="rotate(-2 1077.25 1089.00)">
<rect x="1043.50" y="1073.38" width="67.50" height="31.25" rx="15.62" fill="#0e0b0a" opacity="0.300" filter="url(#bl4)"/>
<rect x="1046.00" y="1077.50" width="62.50" height="23.00" rx="13.89" ry="11.50" fill="#0e0b0a" opacity="1.0" filter="url(#bl3)"/>
</g>
<g transform="rotate(-5 1162.50 1078.00)">
<rect x="1128.00" y="1061.44" width="69.00" height="33.12" rx="16.56" fill="#0e0b0a" opacity="0.300" filter="url(#bl4)"/>
<rect x="1130.50" y="1065.75" width="64.00" height="24.50" rx="14.22" ry="12.25" fill="#0e0b0a" opacity="1.0" filter="url(#bl3)"/>
</g>
</g>
<rect x="853.00" y="1046.20" width="380.20" height="85.80" fill="none" stroke="#1c1816" stroke-width="1.6"/>
<text x="825.50" y="784.50" font-size="30" text-anchor="end" transform="translate(825.50 784.50) scale(1.0 1.02) translate(-825.50 -784.50)" stroke="#17120f" stroke-width="0.4" stroke-linejoin="round">4-HNE</text>
<text x="823.50" y="881.00" font-size="30" text-anchor="end" transform="translate(823.50 881.00) scale(1.0 1.02) translate(-823.50 -881.00)" stroke="#17120f" stroke-width="0.4" stroke-linejoin="round">XCT</text>
<text x="826.00" y="1000.50" font-size="30" text-anchor="end" transform="translate(826.00 1000.50) scale(1.0 1.02) translate(-826.00 -1000.50)" stroke="#17120f" stroke-width="0.4" stroke-linejoin="round">GPX4</text>
<text x="838.00" y="1105.20" font-size="30" text-anchor="end" stroke="#17120f" stroke-width="0.4" stroke-linejoin="round">β-actin</text>
<text x="1245.80" y="784.50" font-size="30" transform="translate(1245.80 784.50) scale(1.0 1.02) translate(-1245.80 -784.50)" stroke="#17120f" stroke-width="0.4" stroke-linejoin="round">65kDa</text>
<text x="1245.80" y="881.00" font-size="30" transform="translate(1245.80 881.00) scale(1.0 1.02) translate(-1245.80 -881.00)" stroke="#17120f" stroke-width="0.4" stroke-linejoin="round">35kDa</text>
<text x="1245.80" y="1000.50" font-size="30" transform="translate(1245.80 1000.50) scale(1.0 1.02) translate(-1245.80 -1000.50)" stroke="#17120f" stroke-width="0.4" stroke-linejoin="round">22kDa</text>
<text x="1245.80" y="1104.00" font-size="30" transform="translate(1245.80 1104.00) scale(1.0 1.02) translate(-1245.80 -1104.00)" stroke="#17120f" stroke-width="0.4" stroke-linejoin="round">42kDa</text>
<text x="826.50" y="1226.50" font-size="30" transform="rotate(-38 826.50 1226.50) translate(826.50 1226.50) scale(1.0 1.02) translate(-826.50 -1226.50)" stroke="#17120f" stroke-width="0.6" stroke-linejoin="round">Control</text>
<text x="943.20" y="1210.80" font-size="30" transform="rotate(-38 943.20 1210.80) translate(943.20 1210.80) scale(1.0 1.02) translate(-943.20 -1210.80)" stroke="#17120f" stroke-width="0.6" stroke-linejoin="round">H<tspan font-size="0.8em">2</tspan>O<tspan font-size="0.8em">2</tspan></text>
<text x="1066.20" y="1193.00" font-size="30" transform="rotate(-38 1066.20 1193.00) translate(1066.20 1193.00) scale(1.0 1.02) translate(-1066.20 -1193.00)" stroke="#17120f" stroke-width="0.6" stroke-linejoin="round">OE</text>
<text x="1057.60" y="1267.40" font-size="30" transform="rotate(-38 1057.60 1267.40) translate(1057.60 1267.40) scale(1.0 1.02) translate(-1057.60 -1267.40)" stroke="#17120f" stroke-width="0.6" stroke-linejoin="round">OE+shRNH1</text>
<rect x="746.35" y="59.15" width="28.30" height="13.10" fill="#E4A86F" stroke="#17120f" stroke-width="2.3"/>
<text x="781.00" y="76.60" font-size="30.1" transform="translate(781.00 76.60) scale(1.0 1.02) translate(-781.00 -76.60)" stroke="#17120f" stroke-width="0.7" stroke-linejoin="round">Control</text>
<rect x="888.55" y="59.15" width="28.30" height="13.10" fill="#8D9672" stroke="#17120f" stroke-width="2.3"/>
<text x="920.50" y="76.60" font-size="30.1" transform="translate(920.50 76.60) scale(1.0 1.02) translate(-920.50 -76.60)" stroke="#17120f" stroke-width="0.7" stroke-linejoin="round">H<tspan font-size="0.8em">2</tspan>O<tspan font-size="0.8em">2</tspan></text>
<rect x="996.15" y="59.15" width="28.10" height="13.10" fill="#90A3B6" stroke="#17120f" stroke-width="2.3"/>
<text x="1030.00" y="76.60" font-size="30.1" transform="translate(1030.00 76.60) scale(1.0 1.02) translate(-1030.00 -76.60)" stroke="#17120f" stroke-width="0.7" stroke-linejoin="round">OE+shRNH1</text>
<rect x="1212.15" y="59.15" width="28.10" height="13.10" fill="#B5ADC6" stroke="#17120f" stroke-width="2.3"/>
<text x="1245.00" y="76.60" font-size="30.1" transform="translate(1245.00 76.60) scale(1.0 1.02) translate(-1245.00 -76.60)" stroke="#17120f" stroke-width="0.7" stroke-linejoin="round">OE</text>
<line x1="784.00" y1="143.70" x2="784.00" y2="509.55" stroke="#17120f" stroke-width="3.9" stroke-linecap="butt"/>
<line x1="768.30" y1="507.60" x2="1328.50" y2="507.60" stroke="#17120f" stroke-width="3.9" stroke-linecap="butt"/>
<line x1="768.30" y1="145.65" x2="784.00" y2="145.65" stroke="#17120f" stroke-width="3.9" stroke-linecap="butt"/>
<text x="762.60" y="152.40" font-size="27.8" text-anchor="end" font-weight="bold" transform="translate(762.60 152.40) scale(0.93 1.0) translate(-762.60 -152.40)" stroke="#17120f" stroke-width="0.4" stroke-linejoin="round">1.5</text>
<line x1="768.30" y1="266.30" x2="784.00" y2="266.30" stroke="#17120f" stroke-width="3.9" stroke-linecap="butt"/>
<text x="762.60" y="272.60" font-size="27.8" text-anchor="end" font-weight="bold" transform="translate(762.60 272.60) scale(0.93 1.0) translate(-762.60 -272.60)" stroke="#17120f" stroke-width="0.4" stroke-linejoin="round">1.0</text>
<line x1="768.30" y1="386.95" x2="784.00" y2="386.95" stroke="#17120f" stroke-width="3.9" stroke-linecap="butt"/>
<text x="762.60" y="392.80" font-size="27.8" text-anchor="end" font-weight="bold" transform="translate(762.60 392.80) scale(0.93 1.0) translate(-762.60 -392.80)" stroke="#17120f" stroke-width="0.4" stroke-linejoin="round">0.5</text>
<line x1="768.30" y1="507.60" x2="784.00" y2="507.60" stroke="#17120f" stroke-width="3.9" stroke-linecap="butt"/>
<text x="763.40" y="512.90" font-size="27.8" text-anchor="end" font-weight="bold" transform="translate(763.40 512.90) scale(0.93 1.0) translate(-763.40 -512.90)" stroke="#17120f" stroke-width="0.4" stroke-linejoin="round">0.0</text>
<line x1="872.50" y1="507.60" x2="872.50" y2="523.10" stroke="#17120f" stroke-width="3.9" stroke-linecap="butt"/>
<line x1="1055.00" y1="507.60" x2="1055.00" y2="523.10" stroke="#17120f" stroke-width="3.9" stroke-linecap="butt"/>
<line x1="1238.50" y1="507.60" x2="1238.50" y2="523.10" stroke="#17120f" stroke-width="3.9" stroke-linecap="butt"/>
<text x="715.00" y="320.00" font-size="30.2" text-anchor="middle" transform="rotate(-90 715.00 320.00) translate(715.00 320.00) scale(1.0 1.02) translate(-715.00 -320.00)" stroke="#17120f" stroke-width="0.7" stroke-linejoin="round">Relative gray value</text>
<text x="864.00" y="549.00" font-size="30" text-anchor="middle" transform="translate(864.00 549.00) scale(1.0 1.02) translate(-864.00 -549.00)" stroke="#17120f" stroke-width="0.7" stroke-linejoin="round">cGAS</text>
<text x="1046.30" y="549.00" font-size="30" text-anchor="middle" transform="translate(1046.30 549.00) scale(1.0 1.02) translate(-1046.30 -549.00)" stroke="#17120f" stroke-width="0.7" stroke-linejoin="round">Sting</text>
<text x="1225.50" y="549.00" font-size="30" text-anchor="middle" transform="translate(1225.50 549.00) scale(1.0 1.02) translate(-1225.50 -549.00)" stroke="#17120f" stroke-width="0.7" stroke-linejoin="round">p-IRF3/IRF3</text>
<rect x="801.00" y="399.60" width="29.00" height="108.00" fill="#E4A86F" stroke="#17120f" stroke-width="2.0"/>
<rect x="839.20" y="276.40" width="29.00" height="231.20" fill="#8D9672" stroke="#17120f" stroke-width="2.0"/>
<rect x="876.80" y="305.00" width="29.00" height="202.60" fill="#90A3B6" stroke="#17120f" stroke-width="2.0"/>
<rect x="915.00" y="332.40" width="28.60" height="175.20" fill="#B5ADC6" stroke="#17120f" stroke-width="2.0"/>
<rect x="984.00" y="409.00" width="29.00" height="98.60" fill="#E4A86F" stroke="#17120f" stroke-width="2.0"/>
<rect x="1022.00" y="261.60" width="29.00" height="246.00" fill="#8D9672" stroke="#17120f" stroke-width="2.0"/>
<rect x="1059.60" y="311.00" width="29.00" height="196.60" fill="#90A3B6" stroke="#17120f" stroke-width="2.0"/>
<rect x="1097.40" y="352.40" width="29.00" height="155.20" fill="#B5ADC6" stroke="#17120f" stroke-width="2.0"/>
<rect x="1167.00" y="429.80" width="29.40" height="77.80" fill="#E4A86F" stroke="#17120f" stroke-width="2.0"/>
<rect x="1205.20" y="201.40" width="29.20" height="306.20" fill="#8D9672" stroke="#17120f" stroke-width="2.0"/>
<rect x="1242.70" y="284.00" width="29.10" height="223.60" fill="#90A3B6" stroke="#17120f" stroke-width="2.0"/>
<rect x="1281.00" y="326.40" width="29.40" height="181.20" fill="#B5ADC6" stroke="#17120f" stroke-width="2.0"/>
<line x1="815.60" y1="390.00" x2="815.60" y2="398.60" stroke="#17120f" stroke-width="2.0" stroke-linecap="butt"/>
<line x1="807.85" y1="390.00" x2="823.35" y2="390.00" stroke="#17120f" stroke-width="2.0" stroke-linecap="butt"/>
<line x1="853.60" y1="264.40" x2="853.60" y2="275.40" stroke="#17120f" stroke-width="2.0" stroke-linecap="butt"/>
<line x1="845.85" y1="264.40" x2="861.35" y2="264.40" stroke="#17120f" stroke-width="2.0" stroke-linecap="butt"/>
<line x1="891.00" y1="290.60" x2="891.00" y2="304.00" stroke="#17120f" stroke-width="2.0" stroke-linecap="butt"/>
<line x1="883.25" y1="290.60" x2="898.75" y2="290.60" stroke="#17120f" stroke-width="2.0" stroke-linecap="butt"/>
<line x1="929.40" y1="324.60" x2="929.40" y2="331.40" stroke="#17120f" stroke-width="2.0" stroke-linecap="butt"/>
<line x1="921.65" y1="324.60" x2="937.15" y2="324.60" stroke="#17120f" stroke-width="2.0" stroke-linecap="butt"/>
<line x1="998.40" y1="397.00" x2="998.40" y2="408.00" stroke="#17120f" stroke-width="2.0" stroke-linecap="butt"/>
<line x1="990.65" y1="397.00" x2="1006.15" y2="397.00" stroke="#17120f" stroke-width="2.0" stroke-linecap="butt"/>
<line x1="1036.40" y1="240.00" x2="1036.40" y2="260.60" stroke="#17120f" stroke-width="2.0" stroke-linecap="butt"/>
<line x1="1028.65" y1="240.00" x2="1044.15" y2="240.00" stroke="#17120f" stroke-width="2.0" stroke-linecap="butt"/>
<line x1="1074.00" y1="294.00" x2="1074.00" y2="310.00" stroke="#17120f" stroke-width="2.0" stroke-linecap="butt"/>
<line x1="1066.25" y1="294.00" x2="1081.75" y2="294.00" stroke="#17120f" stroke-width="2.0" stroke-linecap="butt"/>
<line x1="1111.80" y1="334.60" x2="1111.80" y2="351.40" stroke="#17120f" stroke-width="2.0" stroke-linecap="butt"/>
<line x1="1104.05" y1="334.60" x2="1119.55" y2="334.60" stroke="#17120f" stroke-width="2.0" stroke-linecap="butt"/>
<line x1="1181.60" y1="422.80" x2="1181.60" y2="428.80" stroke="#17120f" stroke-width="2.0" stroke-linecap="butt"/>
<line x1="1173.85" y1="422.80" x2="1189.35" y2="422.80" stroke="#17120f" stroke-width="2.0" stroke-linecap="butt"/>
<line x1="1219.60" y1="190.00" x2="1219.60" y2="200.40" stroke="#17120f" stroke-width="2.0" stroke-linecap="butt"/>
<line x1="1211.85" y1="190.00" x2="1227.35" y2="190.00" stroke="#17120f" stroke-width="2.0" stroke-linecap="butt"/>
<line x1="1257.20" y1="266.30" x2="1257.20" y2="283.00" stroke="#17120f" stroke-width="2.0" stroke-linecap="butt"/>
<line x1="1249.45" y1="266.30" x2="1264.95" y2="266.30" stroke="#17120f" stroke-width="2.0" stroke-linecap="butt"/>
<line x1="1295.50" y1="299.00" x2="1295.50" y2="325.40" stroke="#17120f" stroke-width="2.0" stroke-linecap="butt"/>
<line x1="1287.75" y1="299.00" x2="1303.25" y2="299.00" stroke="#17120f" stroke-width="2.0" stroke-linecap="butt"/>
<circle cx="815.60" cy="389.60" r="3.5" fill="#17120f"/>
<circle cx="822.60" cy="399.00" r="3.5" fill="#17120f"/>
<circle cx="808.00" cy="404.40" r="3.5" fill="#17120f"/>
<circle cx="846.40" cy="268.00" r="3.5" fill="#17120f"/>
<circle cx="860.40" cy="269.00" r="3.5" fill="#17120f"/>
<circle cx="853.40" cy="286.40" r="3.5" fill="#17120f"/>
<circle cx="884.00" cy="294.60" r="3.5" fill="#17120f"/>
<circle cx="898.00" cy="297.00" r="3.5" fill="#17120f"/>
<circle cx="891.00" cy="318.00" r="3.5" fill="#17120f"/>
<circle cx="921.60" cy="324.40" r="3.5" fill="#17120f"/>
<circle cx="936.00" cy="331.40" r="3.5" fill="#17120f"/>
<circle cx="921.60" cy="336.00" r="3.5" fill="#17120f"/>
<circle cx="998.40" cy="397.00" r="3.5" fill="#17120f"/>
<circle cx="998.40" cy="406.60" r="3.5" fill="#17120f"/>
<circle cx="998.40" cy="417.60" r="3.5" fill="#17120f"/>
<circle cx="1029.00" cy="248.00" r="3.5" fill="#17120f"/>
<circle cx="1043.40" cy="249.00" r="3.5" fill="#17120f"/>
<circle cx="1036.40" cy="283.00" r="3.5" fill="#17120f"/>
<circle cx="1074.00" cy="294.60" r="3.5" fill="#17120f"/>
<circle cx="1074.00" cy="307.40" r="3.5" fill="#17120f"/>
<circle cx="1074.00" cy="324.60" r="3.5" fill="#17120f"/>
<circle cx="1111.80" cy="335.60" r="3.5" fill="#17120f"/>
<circle cx="1111.80" cy="347.00" r="3.5" fill="#17120f"/>
<circle cx="1111.80" cy="368.00" r="3.5" fill="#17120f"/>
<circle cx="1174.20" cy="422.80" r="3.5" fill="#17120f"/>
<circle cx="1189.00" cy="429.00" r="3.5" fill="#17120f"/>
<circle cx="1174.20" cy="432.00" r="3.5" fill="#17120f"/>
<circle cx="1219.40" cy="188.40" r="3.5" fill="#17120f"/>
<circle cx="1212.00" cy="205.60" r="3.5" fill="#17120f"/>
<circle cx="1226.60" cy="205.00" r="3.5" fill="#17120f"/>
<circle cx="1257.20" cy="270.00" r="3.5" fill="#17120f"/>
<circle cx="1257.20" cy="277.30" r="3.5" fill="#17120f"/>
<circle cx="1257.20" cy="300.00" r="3.5" fill="#17120f"/>
<circle cx="1295.50" cy="301.00" r="3.5" fill="#17120f"/>
<circle cx="1295.50" cy="321.70" r="3.5" fill="#17120f"/>
<circle cx="1295.50" cy="351.70" r="3.5" fill="#17120f"/>
<text x="854.80" y="265.61" font-size="29.5" text-anchor="middle" transform="translate(854.80 265.61) scale(1.0 0.86) translate(-854.80 -265.61)" stroke="#17120f" stroke-width="0.9" stroke-linejoin="round">****</text>
<text x="893.70" y="291.11" font-size="29.5" text-anchor="middle" transform="translate(893.70 291.11) scale(1.0 0.86) translate(-893.70 -291.11)" stroke="#17120f" stroke-width="0.9" stroke-linejoin="round">****</text>
<text x="929.50" y="326.71" font-size="29.5" text-anchor="middle" transform="translate(929.50 326.71) scale(1.0 0.86) translate(-929.50 -326.71)" stroke="#17120f" stroke-width="0.9" stroke-linejoin="round">***</text>
<text x="1037.50" y="239.61" font-size="29.5" text-anchor="middle" transform="translate(1037.50 239.61) scale(1.0 0.86) translate(-1037.50 -239.61)" stroke="#17120f" stroke-width="0.9" stroke-linejoin="round">****</text>
<text x="1074.50" y="294.11" font-size="29.5" text-anchor="middle" transform="translate(1074.50 294.11) scale(1.0 0.86) translate(-1074.50 -294.11)" stroke="#17120f" stroke-width="0.9" stroke-linejoin="round">***</text>
<text x="1112.80" y="335.71" font-size="29.5" text-anchor="middle" transform="translate(1112.80 335.71) scale(1.0 0.86) translate(-1112.80 -335.71)" stroke="#17120f" stroke-width="0.9" stroke-linejoin="round">**</text>
<text x="1219.20" y="190.11" font-size="29.5" text-anchor="middle" transform="translate(1219.20 190.11) scale(1.0 0.86) translate(-1219.20 -190.11)" stroke="#17120f" stroke-width="0.9" stroke-linejoin="round">****</text>
<text x="1261.00" y="265.11" font-size="29.5" text-anchor="middle" transform="translate(1261.00 265.11) scale(1.0 0.86) translate(-1261.00 -265.11)" stroke="#17120f" stroke-width="0.9" stroke-linejoin="round">****</text>
<text x="1296.00" y="299.11" font-size="29.5" text-anchor="middle" transform="translate(1296.00 299.11) scale(1.0 0.86) translate(-1296.00 -299.11)" stroke="#17120f" stroke-width="0.9" stroke-linejoin="round">***</text>
<line x1="845.60" y1="149.50" x2="929.20" y2="149.50" stroke="#17120f" stroke-width="2.2" stroke-linecap="butt"/>
<text x="885.80" y="150.31" font-size="29.5" text-anchor="middle" transform="translate(885.80 150.31) scale(1.0 0.86) translate(-885.80 -150.31)" stroke="#17120f" stroke-width="0.9" stroke-linejoin="round">***</text>
<line x1="885.30" y1="196.40" x2="928.00" y2="196.40" stroke="#17120f" stroke-width="2.2" stroke-linecap="butt"/>
<text x="907.00" y="195.81" font-size="29.5" text-anchor="middle" transform="translate(907.00 195.81) scale(1.0 0.86) translate(-907.00 -195.81)" stroke="#17120f" stroke-width="0.9" stroke-linejoin="round">*</text>
<line x1="850.40" y1="226.40" x2="891.20" y2="226.40" stroke="#17120f" stroke-width="2.2" stroke-linecap="butt"/>
<text x="870.80" y="226.11" font-size="29.5" text-anchor="middle" transform="translate(870.80 226.11) scale(1.0 0.86) translate(-870.80 -226.11)" stroke="#17120f" stroke-width="0.9" stroke-linejoin="round">*</text>
<line x1="1037.60" y1="144.60" x2="1111.00" y2="144.60" stroke="#17120f" stroke-width="2.2" stroke-linecap="butt"/>
<text x="1074.00" y="143.51" font-size="29.5" text-anchor="middle" transform="translate(1074.00 143.51) scale(1.0 0.86) translate(-1074.00 -143.51)" stroke="#17120f" stroke-width="0.9" stroke-linejoin="round">***</text>
<line x1="1069.00" y1="178.00" x2="1109.60" y2="178.00" stroke="#17120f" stroke-width="2.2" stroke-linecap="butt"/>
<text x="1091.00" y="178.11" font-size="29.5" text-anchor="middle" transform="translate(1091.00 178.11) scale(1.0 0.86) translate(-1091.00 -178.11)" stroke="#17120f" stroke-width="0.9" stroke-linejoin="round">*</text>
<line x1="1037.60" y1="206.40" x2="1075.00" y2="206.40" stroke="#17120f" stroke-width="2.2" stroke-linecap="butt"/>
<text x="1055.00" y="206.11" font-size="29.5" text-anchor="middle" transform="translate(1055.00 206.11) scale(1.0 0.86) translate(-1055.00 -206.11)" stroke="#17120f" stroke-width="0.9" stroke-linejoin="round">*</text>
<line x1="1210.60" y1="127.60" x2="1287.40" y2="127.60" stroke="#17120f" stroke-width="2.2" stroke-linecap="butt"/>
<text x="1254.00" y="126.51" font-size="29.5" text-anchor="middle" transform="translate(1254.00 126.51) scale(1.0 0.86) translate(-1254.00 -126.51)" stroke="#17120f" stroke-width="0.9" stroke-linejoin="round">****</text>
<line x1="1216.60" y1="156.40" x2="1258.60" y2="156.40" stroke="#17120f" stroke-width="2.2" stroke-linecap="butt"/>
<text x="1237.40" y="156.51" font-size="29.5" text-anchor="middle" transform="translate(1237.40 156.51) scale(1.0 0.86) translate(-1237.40 -156.51)" stroke="#17120f" stroke-width="0.9" stroke-linejoin="round">**</text>
<line x1="1251.00" y1="228.60" x2="1292.00" y2="228.60" stroke="#17120f" stroke-width="2.2" stroke-linecap="butt"/>
<text x="1271.00" y="227.51" font-size="29.5" text-anchor="middle" transform="translate(1271.00 227.51) scale(1.0 0.86) translate(-1271.00 -227.51)" stroke="#17120f" stroke-width="0.9" stroke-linejoin="round">*</text>
<rect x="68.55" y="739.15" width="28.30" height="12.50" fill="#E4A86F" stroke="#17120f" stroke-width="2.3"/>
<text x="104.00" y="754.30" font-size="27.2" transform="translate(104.00 754.30) scale(1.0 1.02) translate(-104.00 -754.30)" stroke="#17120f" stroke-width="0.7" stroke-linejoin="round">Control</text>
<rect x="199.15" y="739.15" width="28.10" height="12.50" fill="#8D9672" stroke="#17120f" stroke-width="2.3"/>
<text x="232.00" y="754.30" font-size="27.2" transform="translate(232.00 754.30) scale(1.0 1.02) translate(-232.00 -754.30)" stroke="#17120f" stroke-width="0.7" stroke-linejoin="round">H2O2</text>
<rect x="309.15" y="739.15" width="28.30" height="12.50" fill="#90A3B6" stroke="#17120f" stroke-width="2.3"/>
<text x="343.00" y="754.30" font-size="27.2" transform="translate(343.00 754.30) scale(1.0 1.02) translate(-343.00 -754.30)" stroke="#17120f" stroke-width="0.7" stroke-linejoin="round">DMXAA</text>
<rect x="446.55" y="739.15" width="28.30" height="12.50" fill="#B5ADC6" stroke="#17120f" stroke-width="2.3"/>
<text x="480.50" y="754.30" font-size="27.2" transform="translate(480.50 754.30) scale(1.0 1.02) translate(-480.50 -754.30)" stroke="#17120f" stroke-width="0.7" stroke-linejoin="round">OE</text>
<rect x="530.15" y="739.15" width="28.30" height="12.50" fill="#6677A0" stroke="#17120f" stroke-width="2.3"/>
<text x="564.50" y="754.30" font-size="27.2" transform="translate(564.50 754.30) scale(1.0 1.02) translate(-564.50 -754.30)" stroke="#17120f" stroke-width="0.7" stroke-linejoin="round">OE+DMXAA</text>
<line x1="93.30" y1="798.85" x2="93.30" y2="1194.35" stroke="#17120f" stroke-width="3.9" stroke-linecap="butt"/>
<line x1="76.80" y1="1192.40" x2="682.80" y2="1192.40" stroke="#17120f" stroke-width="3.9" stroke-linecap="butt"/>
<line x1="76.80" y1="800.80" x2="93.30" y2="800.80" stroke="#17120f" stroke-width="3.9" stroke-linecap="butt"/>
<text x="69.20" y="808.80" font-size="21.1" text-anchor="end" font-weight="bold" stroke="#17120f" stroke-width="0.4" stroke-linejoin="round">10</text>
<line x1="76.80" y1="879.12" x2="93.30" y2="879.12" stroke="#17120f" stroke-width="3.9" stroke-linecap="butt"/>
<text x="72.90" y="887.30" font-size="21.1" text-anchor="end" font-weight="bold" stroke="#17120f" stroke-width="0.4" stroke-linejoin="round">8</text>
<line x1="76.80" y1="957.44" x2="93.30" y2="957.44" stroke="#17120f" stroke-width="3.9" stroke-linecap="butt"/>
<text x="72.90" y="965.60" font-size="21.1" text-anchor="end" font-weight="bold" stroke="#17120f" stroke-width="0.4" stroke-linejoin="round">6</text>
<line x1="76.80" y1="1035.76" x2="93.30" y2="1035.76" stroke="#17120f" stroke-width="3.9" stroke-linecap="butt"/>
<text x="72.90" y="1043.90" font-size="21.1" text-anchor="end" font-weight="bold" stroke="#17120f" stroke-width="0.4" stroke-linejoin="round">4</text>
<line x1="76.80" y1="1114.08" x2="93.30" y2="1114.08" stroke="#17120f" stroke-width="3.9" stroke-linecap="butt"/>
<text x="72.90" y="1122.20" font-size="21.1" text-anchor="end" font-weight="bold" stroke="#17120f" stroke-width="0.4" stroke-linejoin="round">2</text>
<line x1="76.80" y1="1192.40" x2="93.30" y2="1192.40" stroke="#17120f" stroke-width="3.9" stroke-linecap="butt"/>
<text x="72.90" y="1200.60" font-size="21.1" text-anchor="end" font-weight="bold" stroke="#17120f" stroke-width="0.4" stroke-linejoin="round">0</text>
<line x1="188.70" y1="1192.40" x2="188.70" y2="1209.40" stroke="#17120f" stroke-width="3.9" stroke-linecap="butt"/>
<line x1="387.40" y1="1192.40" x2="387.40" y2="1209.40" stroke="#17120f" stroke-width="3.9" stroke-linecap="butt"/>
<line x1="585.40" y1="1192.40" x2="585.40" y2="1209.40" stroke="#17120f" stroke-width="3.9" stroke-linecap="butt"/>
<text x="39.00" y="1015.50" font-size="27.2" text-anchor="middle" transform="rotate(-90 39.00 1015.50) translate(39.00 1015.50) scale(1.0 1.02) translate(-39.00 -1015.50)" stroke="#17120f" stroke-width="0.7" stroke-linejoin="round">Relative gray value</text>
<text x="189.50" y="1240.00" font-size="30" text-anchor="middle" transform="translate(189.50 1240.00) scale(1.0 1.02) translate(-189.50 -1240.00)" stroke="#17120f" stroke-width="0.7" stroke-linejoin="round">4-HNE</text>
<text x="390.00" y="1240.00" font-size="30" text-anchor="middle" transform="translate(390.00 1240.00) scale(1.0 1.02) translate(-390.00 -1240.00)" stroke="#17120f" stroke-width="0.7" stroke-linejoin="round">XCT</text>
<text x="587.50" y="1240.00" font-size="30" text-anchor="middle" transform="translate(587.50 1240.00) scale(1.0 1.02) translate(-587.50 -1240.00)" stroke="#17120f" stroke-width="0.7" stroke-linejoin="round">GPX4</text>
<rect x="108.00" y="1056.60" width="24.20" height="135.80" fill="#E4A86F" stroke="#17120f" stroke-width="2.0"/>
<rect x="142.40" y="978.60" width="24.20" height="213.80" fill="#8D9672" stroke="#17120f" stroke-width="2.0"/>
<rect x="176.60" y="945.40" width="24.40" height="247.00" fill="#90A3B6" stroke="#17120f" stroke-width="2.0"/>
<rect x="211.00" y="1021.00" width="24.40" height="171.40" fill="#B5ADC6" stroke="#17120f" stroke-width="2.0"/>
<rect x="245.40" y="1001.60" width="24.20" height="190.80" fill="#6677A0" stroke="#17120f" stroke-width="2.0"/>
<rect x="306.00" y="898.60" width="24.40" height="293.80" fill="#E4A86F" stroke="#17120f" stroke-width="2.0"/>
<rect x="340.60" y="992.40" width="24.20" height="200.00" fill="#8D9672" stroke="#17120f" stroke-width="2.0"/>
<rect x="375.00" y="1003.00" width="24.40" height="189.40" fill="#90A3B6" stroke="#17120f" stroke-width="2.0"/>
<rect x="409.60" y="944.80" width="24.40" height="247.60" fill="#B5ADC6" stroke="#17120f" stroke-width="2.0"/>
<rect x="444.20" y="961.40" width="24.20" height="231.00" fill="#6677A0" stroke="#17120f" stroke-width="2.0"/>
<rect x="505.80" y="981.00" width="24.00" height="211.40" fill="#E4A86F" stroke="#17120f" stroke-width="2.0"/>
<rect x="539.80" y="1049.70" width="24.00" height="142.70" fill="#8D9672" stroke="#17120f" stroke-width="2.0"/>
<rect x="574.40" y="1060.00" width="24.30" height="132.40" fill="#90A3B6" stroke="#17120f" stroke-width="2.0"/>
<rect x="608.50" y="1009.70" width="24.30" height="182.70" fill="#B5ADC6" stroke="#17120f" stroke-width="2.0"/>
<rect x="642.80" y="1030.50" width="24.80" height="161.90" fill="#6677A0" stroke="#17120f" stroke-width="2.0"/>
<line x1="120.00" y1="1048.40" x2="120.00" y2="1059.00" stroke="#17120f" stroke-width="2.0" stroke-linecap="butt"/>
<line x1="113.25" y1="1048.40" x2="126.75" y2="1048.40" stroke="#17120f" stroke-width="2.0" stroke-linecap="butt"/>
<line x1="113.25" y1="1059.00" x2="126.75" y2="1059.00" stroke="#17120f" stroke-width="2.0" stroke-linecap="butt"/>
<line x1="154.40" y1="961.00" x2="154.40" y2="994.40" stroke="#17120f" stroke-width="2.0" stroke-linecap="butt"/>
<line x1="147.65" y1="961.00" x2="161.15" y2="961.00" stroke="#17120f" stroke-width="2.0" stroke-linecap="butt"/>
<line x1="147.65" y1="994.40" x2="161.15" y2="994.40" stroke="#17120f" stroke-width="2.0" stroke-linecap="butt"/>
<line x1="188.60" y1="928.40" x2="188.60" y2="959.40" stroke="#17120f" stroke-width="2.0" stroke-linecap="butt"/>
<line x1="181.85" y1="928.40" x2="195.35" y2="928.40" stroke="#17120f" stroke-width="2.0" stroke-linecap="butt"/>
<line x1="181.85" y1="959.40" x2="195.35" y2="959.40" stroke="#17120f" stroke-width="2.0" stroke-linecap="butt"/>
<line x1="223.20" y1="1009.00" x2="223.20" y2="1030.40" stroke="#17120f" stroke-width="2.0" stroke-linecap="butt"/>
<line x1="216.45" y1="1009.00" x2="229.95" y2="1009.00" stroke="#17120f" stroke-width="2.0" stroke-linecap="butt"/>
<line x1="216.45" y1="1030.40" x2="229.95" y2="1030.40" stroke="#17120f" stroke-width="2.0" stroke-linecap="butt"/>
<line x1="257.40" y1="992.00" x2="257.40" y2="1008.40" stroke="#17120f" stroke-width="2.0" stroke-linecap="butt"/>
<line x1="250.65" y1="992.00" x2="264.15" y2="992.00" stroke="#17120f" stroke-width="2.0" stroke-linecap="butt"/>
<line x1="250.65" y1="1008.40" x2="264.15" y2="1008.40" stroke="#17120f" stroke-width="2.0" stroke-linecap="butt"/>
<line x1="318.40" y1="869.60" x2="318.40" y2="924.40" stroke="#17120f" stroke-width="2.0" stroke-linecap="butt"/>
<line x1="311.65" y1="869.60" x2="325.15" y2="869.60" stroke="#17120f" stroke-width="2.0" stroke-linecap="butt"/>
<line x1="311.65" y1="924.40" x2="325.15" y2="924.40" stroke="#17120f" stroke-width="2.0" stroke-linecap="butt"/>
<line x1="352.60" y1="972.40" x2="352.60" y2="1008.40" stroke="#17120f" stroke-width="2.0" stroke-linecap="butt"/>
<line x1="345.85" y1="972.40" x2="359.35" y2="972.40" stroke="#17120f" stroke-width="2.0" stroke-linecap="butt"/>
<line x1="345.85" y1="1008.40" x2="359.35" y2="1008.40" stroke="#17120f" stroke-width="2.0" stroke-linecap="butt"/>
<line x1="387.20" y1="991.00" x2="387.20" y2="1013.00" stroke="#17120f" stroke-width="2.0" stroke-linecap="butt"/>
<line x1="380.45" y1="991.00" x2="393.95" y2="991.00" stroke="#17120f" stroke-width="2.0" stroke-linecap="butt"/>
<line x1="380.45" y1="1013.00" x2="393.95" y2="1013.00" stroke="#17120f" stroke-width="2.0" stroke-linecap="butt"/>
<line x1="421.60" y1="935.40" x2="421.60" y2="951.20" stroke="#17120f" stroke-width="2.0" stroke-linecap="butt"/>
<line x1="414.85" y1="935.40" x2="428.35" y2="935.40" stroke="#17120f" stroke-width="2.0" stroke-linecap="butt"/>
<line x1="414.85" y1="951.20" x2="428.35" y2="951.20" stroke="#17120f" stroke-width="2.0" stroke-linecap="butt"/>
<line x1="456.00" y1="947.40" x2="456.00" y2="973.40" stroke="#17120f" stroke-width="2.0" stroke-linecap="butt"/>
<line x1="449.25" y1="947.40" x2="462.75" y2="947.40" stroke="#17120f" stroke-width="2.0" stroke-linecap="butt"/>
<line x1="449.25" y1="973.40" x2="462.75" y2="973.40" stroke="#17120f" stroke-width="2.0" stroke-linecap="butt"/>
<line x1="517.40" y1="972.70" x2="517.40" y2="987.20" stroke="#17120f" stroke-width="2.0" stroke-linecap="butt"/>
<line x1="510.65" y1="972.70" x2="524.15" y2="972.70" stroke="#17120f" stroke-width="2.0" stroke-linecap="butt"/>
<line x1="510.65" y1="987.20" x2="524.15" y2="987.20" stroke="#17120f" stroke-width="2.0" stroke-linecap="butt"/>
<line x1="551.60" y1="1041.00" x2="551.60" y2="1054.70" stroke="#17120f" stroke-width="2.0" stroke-linecap="butt"/>
<line x1="544.85" y1="1041.00" x2="558.35" y2="1041.00" stroke="#17120f" stroke-width="2.0" stroke-linecap="butt"/>
<line x1="544.85" y1="1054.70" x2="558.35" y2="1054.70" stroke="#17120f" stroke-width="2.0" stroke-linecap="butt"/>
<line x1="586.40" y1="1050.00" x2="586.40" y2="1066.00" stroke="#17120f" stroke-width="2.0" stroke-linecap="butt"/>
<line x1="579.65" y1="1050.00" x2="593.15" y2="1050.00" stroke="#17120f" stroke-width="2.0" stroke-linecap="butt"/>
<line x1="579.65" y1="1066.00" x2="593.15" y2="1066.00" stroke="#17120f" stroke-width="2.0" stroke-linecap="butt"/>
<line x1="620.60" y1="996.60" x2="620.60" y2="1019.30" stroke="#17120f" stroke-width="2.0" stroke-linecap="butt"/>
<line x1="613.85" y1="996.60" x2="627.35" y2="996.60" stroke="#17120f" stroke-width="2.0" stroke-linecap="butt"/>
<line x1="613.85" y1="1019.30" x2="627.35" y2="1019.30" stroke="#17120f" stroke-width="2.0" stroke-linecap="butt"/>
<line x1="655.00" y1="1017.50" x2="655.00" y2="1039.70" stroke="#17120f" stroke-width="2.0" stroke-linecap="butt"/>
<line x1="648.25" y1="1017.50" x2="661.75" y2="1017.50" stroke="#17120f" stroke-width="2.0" stroke-linecap="butt"/>
<line x1="648.25" y1="1039.70" x2="661.75" y2="1039.70" stroke="#17120f" stroke-width="2.0" stroke-linecap="butt"/>
<circle cx="120.00" cy="1048.00" r="3.5" fill="#17120f"/>
<circle cx="129.00" cy="1057.60" r="3.5" fill="#17120f"/>
<circle cx="110.40" cy="1059.00" r="3.5" fill="#17120f"/>
<circle cx="154.40" cy="960.00" r="3.5" fill="#17120f"/>
<circle cx="154.40" cy="976.00" r="3.5" fill="#17120f"/>
<circle cx="154.40" cy="994.40" r="3.5" fill="#17120f"/>
<circle cx="188.60" cy="925.60" r="3.5" fill="#17120f"/>
<circle cx="198.00" cy="949.60" r="3.5" fill="#17120f"/>
<circle cx="179.40" cy="955.60" r="3.5" fill="#17120f"/>
<circle cx="223.20" cy="1008.40" r="3.5" fill="#17120f"/>
<circle cx="232.40" cy="1021.60" r="3.5" fill="#17120f"/>
<circle cx="214.00" cy="1029.00" r="3.5" fill="#17120f"/>
<circle cx="257.40" cy="991.60" r="3.5" fill="#17120f"/>
<circle cx="257.40" cy="1000.00" r="3.5" fill="#17120f"/>
<circle cx="257.40" cy="1008.00" r="3.5" fill="#17120f"/>
<circle cx="318.40" cy="865.00" r="3.5" fill="#17120f"/>
<circle cx="327.40" cy="911.40" r="3.5" fill="#17120f"/>
<circle cx="309.00" cy="914.00" r="3.5" fill="#17120f"/>
<circle cx="352.60" cy="970.00" r="3.5" fill="#17120f"/>
<circle cx="352.60" cy="993.60" r="3.5" fill="#17120f"/>
<circle cx="352.60" cy="1008.00" r="3.5" fill="#17120f"/>
<circle cx="387.20" cy="989.60" r="3.5" fill="#17120f"/>
<circle cx="387.20" cy="1002.40" r="3.5" fill="#17120f"/>
<circle cx="387.20" cy="1012.40" r="3.5" fill="#17120f"/>
<circle cx="421.60" cy="933.40" r="3.5" fill="#17120f"/>
<circle cx="431.20" cy="944.40" r="3.5" fill="#17120f"/>
<circle cx="412.40" cy="950.80" r="3.5" fill="#17120f"/>
<circle cx="456.00" cy="947.00" r="3.5" fill="#17120f"/>
<circle cx="456.00" cy="958.20" r="3.5" fill="#17120f"/>
<circle cx="456.00" cy="973.40" r="3.5" fill="#17120f"/>
<circle cx="517.40" cy="971.20" r="3.5" fill="#17120f"/>
<circle cx="527.00" cy="980.40" r="3.5" fill="#17120f"/>
<circle cx="508.20" cy="986.90" r="3.5" fill="#17120f"/>
<circle cx="542.80" cy="1041.00" r="3.5" fill="#17120f"/>
<circle cx="561.00" cy="1047.90" r="3.5" fill="#17120f"/>
<circle cx="542.80" cy="1054.70" r="3.5" fill="#17120f"/>
<circle cx="586.40" cy="1049.60" r="3.5" fill="#17120f"/>
<circle cx="586.40" cy="1058.40" r="3.5" fill="#17120f"/>
<circle cx="586.40" cy="1066.00" r="3.5" fill="#17120f"/>
<circle cx="620.60" cy="995.40" r="3.5" fill="#17120f"/>
<circle cx="620.60" cy="1009.00" r="3.5" fill="#17120f"/>
<circle cx="620.60" cy="1018.70" r="3.5" fill="#17120f"/>
<circle cx="655.00" cy="1017.20" r="3.5" fill="#17120f"/>
<circle cx="655.00" cy="1029.80" r="3.5" fill="#17120f"/>
<circle cx="655.00" cy="1039.70" r="3.5" fill="#17120f"/>
<text x="150.60" y="961.51" font-size="29.5" text-anchor="middle" transform="translate(150.60 961.51) scale(1.0 0.86) translate(-150.60 -961.51)" stroke="#17120f" stroke-width="0.9" stroke-linejoin="round">****</text>
<text x="189.00" y="927.11" font-size="29.5" text-anchor="middle" transform="translate(189.00 927.11) scale(1.0 0.86) translate(-189.00 -927.11)" stroke="#17120f" stroke-width="0.9" stroke-linejoin="round">****</text>
<text x="223.60" y="1008.51" font-size="29.5" text-anchor="middle" transform="translate(223.60 1008.51) scale(1.0 0.86) translate(-223.60 -1008.51)" stroke="#17120f" stroke-width="0.9" stroke-linejoin="round">*</text>
<text x="258.00" y="989.51" font-size="29.5" text-anchor="middle" transform="translate(258.00 989.51) scale(1.0 0.86) translate(-258.00 -989.51)" stroke="#17120f" stroke-width="0.9" stroke-linejoin="round">***</text>
<text x="353.50" y="970.51" font-size="29.5" text-anchor="middle" transform="translate(353.50 970.51) scale(1.0 0.86) translate(-353.50 -970.51)" stroke="#17120f" stroke-width="0.9" stroke-linejoin="round">****</text>
<text x="385.00" y="990.51" font-size="29.5" text-anchor="middle" transform="translate(385.00 990.51) scale(1.0 0.86) translate(-385.00 -990.51)" stroke="#17120f" stroke-width="0.9" stroke-linejoin="round">****</text>
<text x="421.00" y="936.61" font-size="29.5" text-anchor="middle" transform="translate(421.00 936.61) scale(1.0 0.86) translate(-421.00 -936.61)" stroke="#17120f" stroke-width="0.9" stroke-linejoin="round">*</text>
<text x="457.50" y="947.41" font-size="29.5" text-anchor="middle" transform="translate(457.50 947.41) scale(1.0 0.86) translate(-457.50 -947.41)" stroke="#17120f" stroke-width="0.9" stroke-linejoin="round">***</text>
<text x="553.00" y="1033.51" font-size="29.5" text-anchor="middle" transform="translate(553.00 1033.51) scale(1.0 0.86) translate(-553.00 -1033.51)" stroke="#17120f" stroke-width="0.9" stroke-linejoin="round">****</text>
<text x="583.00" y="1044.51" font-size="29.5" text-anchor="middle" transform="translate(583.00 1044.51) scale(1.0 0.86) translate(-583.00 -1044.51)" stroke="#17120f" stroke-width="0.9" stroke-linejoin="round">****</text>
<text x="622.70" y="996.01" font-size="29.5" text-anchor="middle" transform="translate(622.70 996.01) scale(1.0 0.86) translate(-622.70 -996.01)" stroke="#17120f" stroke-width="0.9" stroke-linejoin="round">*</text>
<text x="659.00" y="1008.11" font-size="29.5" text-anchor="middle" transform="translate(659.00 1008.11) scale(1.0 0.86) translate(-659.00 -1008.11)" stroke="#17120f" stroke-width="0.9" stroke-linejoin="round">***</text>
<line x1="154.00" y1="824.00" x2="223.60" y2="824.00" stroke="#17120f" stroke-width="2.2" stroke-linecap="butt"/>
<text x="192.40" y="824.11" font-size="29.5" text-anchor="middle" transform="translate(192.40 824.11) scale(1.0 0.86) translate(-192.40 -824.11)" stroke="#17120f" stroke-width="0.9" stroke-linejoin="round">**</text>
<line x1="189.00" y1="848.40" x2="257.60" y2="848.40" stroke="#17120f" stroke-width="2.2" stroke-linecap="butt"/>
<text x="224.40" y="848.71" font-size="29.5" text-anchor="middle" transform="translate(224.40 848.71) scale(1.0 0.86) translate(-224.40 -848.71)" stroke="#17120f" stroke-width="0.9" stroke-linejoin="round">*</text>
<line x1="189.00" y1="879.20" x2="225.00" y2="879.20" stroke="#17120f" stroke-width="2.2" stroke-linecap="butt"/>
<text x="210.50" y="877.71" font-size="29.5" text-anchor="middle" transform="translate(210.50 877.71) scale(1.0 0.86) translate(-210.50 -877.71)" stroke="#17120f" stroke-width="0.9" stroke-linejoin="round">***</text>
<line x1="351.60" y1="826.40" x2="423.40" y2="826.40" stroke="#17120f" stroke-width="2.2" stroke-linecap="butt"/>
<text x="390.40" y="826.11" font-size="29.5" text-anchor="middle" transform="translate(390.40 826.11) scale(1.0 0.86) translate(-390.40 -826.11)" stroke="#17120f" stroke-width="0.9" stroke-linejoin="round">**</text>
<line x1="387.40" y1="858.80" x2="459.40" y2="858.80" stroke="#17120f" stroke-width="2.2" stroke-linecap="butt"/>
<text x="425.40" y="862.11" font-size="29.5" text-anchor="middle" transform="translate(425.40 862.11) scale(1.0 0.86) translate(-425.40 -862.11)" stroke="#17120f" stroke-width="0.9" stroke-linejoin="round">*</text>
<line x1="383.60" y1="891.60" x2="419.60" y2="891.60" stroke="#17120f" stroke-width="2.2" stroke-linecap="butt"/>
<text x="402.00" y="894.61" font-size="29.5" text-anchor="middle" transform="translate(402.00 894.61) scale(1.0 0.86) translate(-402.00 -894.61)" stroke="#17120f" stroke-width="0.9" stroke-linejoin="round">***</text>
<line x1="546.40" y1="871.20" x2="622.40" y2="871.20" stroke="#17120f" stroke-width="2.2" stroke-linecap="butt"/>
<text x="586.60" y="873.51" font-size="29.5" text-anchor="middle" transform="translate(586.60 873.51) scale(1.0 0.86) translate(-586.60 -873.51)" stroke="#17120f" stroke-width="0.9" stroke-linejoin="round">**</text>
<line x1="588.00" y1="907.00" x2="655.40" y2="907.00" stroke="#17120f" stroke-width="2.2" stroke-linecap="butt"/>
<text x="620.60" y="907.11" font-size="29.5" text-anchor="middle" transform="translate(620.60 907.11) scale(1.0 0.86) translate(-620.60 -907.11)" stroke="#17120f" stroke-width="0.9" stroke-linejoin="round">*</text>
<line x1="584.60" y1="939.40" x2="625.40" y2="939.40" stroke="#17120f" stroke-width="2.2" stroke-linecap="butt"/>
<text x="607.00" y="939.11" font-size="29.5" text-anchor="middle" transform="translate(607.00 939.11) scale(1.0 0.86) translate(-607.00 -939.11)" stroke="#17120f" stroke-width="0.9" stroke-linejoin="round">**</text>
<line x1="154.00" y1="793.20" x2="259.40" y2="793.20" stroke="#17120f" stroke-width="2.2" stroke-linecap="butt"/>
<text x="210.50" y="784.80" font-size="26" text-anchor="middle" transform="translate(210.50 784.80) scale(1.07 1.0) translate(-210.50 -784.80)" stroke="#17120f" stroke-width="0.6" stroke-linejoin="round">ns</text>
<line x1="145.40" y1="896.60" x2="189.40" y2="896.60" stroke="#17120f" stroke-width="2.2" stroke-linecap="butt"/>
<text x="166.20" y="889.20" font-size="26" text-anchor="middle" transform="translate(166.20 889.20) scale(1.07 1.0) translate(-166.20 -889.20)" stroke="#17120f" stroke-width="0.6" stroke-linejoin="round">ns</text>
<line x1="222.00" y1="954.60" x2="261.00" y2="954.60" stroke="#17120f" stroke-width="2.2" stroke-linecap="butt"/>
<text x="243.70" y="948.20" font-size="26" text-anchor="middle" transform="translate(243.70 948.20) scale(1.07 1.0) translate(-243.70 -948.20)" stroke="#17120f" stroke-width="0.6" stroke-linejoin="round">ns</text>
<line x1="352.40" y1="801.00" x2="458.60" y2="801.00" stroke="#17120f" stroke-width="2.2" stroke-linecap="butt"/>
<text x="410.30" y="793.40" font-size="26" text-anchor="middle" transform="translate(410.30 793.40) scale(1.07 1.0) translate(-410.30 -793.40)" stroke="#17120f" stroke-width="0.6" stroke-linejoin="round">ns</text>
<line x1="418.00" y1="908.20" x2="458.60" y2="908.20" stroke="#17120f" stroke-width="2.2" stroke-linecap="butt"/>
<text x="439.50" y="901.80" font-size="26" text-anchor="middle" transform="translate(439.50 901.80) scale(1.07 1.0) translate(-439.50 -901.80)" stroke="#17120f" stroke-width="0.6" stroke-linejoin="round">ns</text>
<line x1="352.00" y1="942.00" x2="390.60" y2="942.00" stroke="#17120f" stroke-width="2.2" stroke-linecap="butt"/>
<text x="372.30" y="937.60" font-size="26" text-anchor="middle" transform="translate(372.30 937.60) scale(1.07 1.0) translate(-372.30 -937.60)" stroke="#17120f" stroke-width="0.6" stroke-linejoin="round">ns</text>
<line x1="551.60" y1="833.00" x2="655.40" y2="833.00" stroke="#17120f" stroke-width="2.2" stroke-linecap="butt"/>
<text x="603.70" y="824.80" font-size="26" text-anchor="middle" transform="translate(603.70 824.80) scale(1.07 1.0) translate(-603.70 -824.80)" stroke="#17120f" stroke-width="0.6" stroke-linejoin="round">ns</text>
<line x1="618.80" y1="971.80" x2="657.60" y2="971.80" stroke="#17120f" stroke-width="2.2" stroke-linecap="butt"/>
<text x="641.70" y="962.20" font-size="26" text-anchor="middle" transform="translate(641.70 962.20) scale(1.07 1.0) translate(-641.70 -962.20)" stroke="#17120f" stroke-width="0.6" stroke-linejoin="round">ns</text>
<line x1="547.90" y1="1009.00" x2="588.20" y2="1009.00" stroke="#17120f" stroke-width="2.2" stroke-linecap="butt"/>
<text x="570.00" y="1003.50" font-size="26" text-anchor="middle" transform="translate(570.00 1003.50) scale(1.07 1.0) translate(-570.00 -1003.50)" stroke="#17120f" stroke-width="0.6" stroke-linejoin="round">ns</text>
<rect x="1418.55" y="741.65" width="28.10" height="12.70" fill="#E4A86F" stroke="#17120f" stroke-width="2.3"/>
<text x="1455.00" y="758.70" font-size="30.1" transform="translate(1455.00 758.70) scale(1.0 1.02) translate(-1455.00 -758.70)" stroke="#17120f" stroke-width="0.7" stroke-linejoin="round">Control</text>
<rect x="1560.15" y="743.15" width="28.10" height="12.70" fill="#8D9672" stroke="#17120f" stroke-width="2.3"/>
<text x="1593.00" y="758.70" font-size="30.1" transform="translate(1593.00 758.70) scale(1.0 1.02) translate(-1593.00 -758.70)" stroke="#17120f" stroke-width="0.7" stroke-linejoin="round">H<tspan font-size="0.8em">2</tspan>O<tspan font-size="0.8em">2</tspan></text>
<rect x="1682.35" y="741.65" width="28.30" height="12.70" fill="#90A3B6" stroke="#17120f" stroke-width="2.3"/>
<text x="1717.50" y="758.70" font-size="30.1" transform="translate(1717.50 758.70) scale(1.0 1.02) translate(-1717.50 -758.70)" stroke="#17120f" stroke-width="0.7" stroke-linejoin="round">OE</text>
<rect x="1780.15" y="741.65" width="28.10" height="12.70" fill="#B5ADC6" stroke="#17120f" stroke-width="2.3"/>
<text x="1814.50" y="758.70" font-size="30.1" transform="translate(1814.50 758.70) scale(1.0 1.02) translate(-1814.50 -758.70)" stroke="#17120f" stroke-width="0.7" stroke-linejoin="round">OE+shRNH1</text>
<line x1="1446.40" y1="832.85" x2="1446.40" y2="1197.55" stroke="#17120f" stroke-width="3.9" stroke-linecap="butt"/>
<line x1="1430.70" y1="1195.60" x2="1989.60" y2="1195.60" stroke="#17120f" stroke-width="3.9" stroke-linecap="butt"/>
<line x1="1430.70" y1="834.80" x2="1446.40" y2="834.80" stroke="#17120f" stroke-width="3.9" stroke-linecap="butt"/>
<text x="1427.90" y="845.80" font-size="27.6" text-anchor="end" font-weight="bold" transform="translate(1427.90 845.80) scale(0.92 1.0) translate(-1427.90 -845.80)" stroke="#17120f" stroke-width="0.4" stroke-linejoin="round">8</text>
<line x1="1430.70" y1="925.00" x2="1446.40" y2="925.00" stroke="#17120f" stroke-width="3.9" stroke-linecap="butt"/>
<text x="1427.90" y="936.00" font-size="27.6" text-anchor="end" font-weight="bold" transform="translate(1427.90 936.00) scale(0.92 1.0) translate(-1427.90 -936.00)" stroke="#17120f" stroke-width="0.4" stroke-linejoin="round">6</text>
<line x1="1430.70" y1="1015.20" x2="1446.40" y2="1015.20" stroke="#17120f" stroke-width="3.9" stroke-linecap="butt"/>
<text x="1427.90" y="1026.00" font-size="27.6" text-anchor="end" font-weight="bold" transform="translate(1427.90 1026.00) scale(0.92 1.0) translate(-1427.90 -1026.00)" stroke="#17120f" stroke-width="0.4" stroke-linejoin="round">4</text>
<line x1="1430.70" y1="1105.40" x2="1446.40" y2="1105.40" stroke="#17120f" stroke-width="3.9" stroke-linecap="butt"/>
<text x="1427.90" y="1115.80" font-size="27.6" text-anchor="end" font-weight="bold" transform="translate(1427.90 1115.80) scale(0.92 1.0) translate(-1427.90 -1115.80)" stroke="#17120f" stroke-width="0.4" stroke-linejoin="round">2</text>
<line x1="1430.70" y1="1195.60" x2="1446.40" y2="1195.60" stroke="#17120f" stroke-width="3.9" stroke-linecap="butt"/>
<text x="1427.90" y="1205.30" font-size="27.6" text-anchor="end" font-weight="bold" transform="translate(1427.90 1205.30) scale(0.92 1.0) translate(-1427.90 -1205.30)" stroke="#17120f" stroke-width="0.4" stroke-linejoin="round">0</text>
<line x1="1533.70" y1="1195.60" x2="1533.70" y2="1211.60" stroke="#17120f" stroke-width="3.9" stroke-linecap="butt"/>
<line x1="1717.00" y1="1195.60" x2="1717.00" y2="1211.60" stroke="#17120f" stroke-width="3.9" stroke-linecap="butt"/>
<line x1="1899.40" y1="1195.60" x2="1899.40" y2="1211.60" stroke="#17120f" stroke-width="3.9" stroke-linecap="butt"/>
<text x="1396.60" y="1012.50" font-size="30.2" text-anchor="middle" transform="rotate(-90 1396.60 1012.50) translate(1396.60 1012.50) scale(1.0 1.02) translate(-1396.60 -1012.50)" stroke="#17120f" stroke-width="0.7" stroke-linejoin="round">Relative gray value</text>
<text x="1534.50" y="1242.50" font-size="30" text-anchor="middle" transform="translate(1534.50 1242.50) scale(1.0 1.02) translate(-1534.50 -1242.50)" stroke="#17120f" stroke-width="0.7" stroke-linejoin="round">4-HNE</text>
<text x="1718.50" y="1242.50" font-size="30" text-anchor="middle" transform="translate(1718.50 1242.50) scale(1.0 1.02) translate(-1718.50 -1242.50)" stroke="#17120f" stroke-width="0.7" stroke-linejoin="round">XCT</text>
<text x="1901.00" y="1242.50" font-size="30" text-anchor="middle" transform="translate(1901.00 1242.50) scale(1.0 1.02) translate(-1901.00 -1242.50)" stroke="#17120f" stroke-width="0.7" stroke-linejoin="round">GPX4</text>
<rect x="1463.00" y="1085.60" width="27.80" height="110.00" fill="#E4A86F" stroke="#17120f" stroke-width="2.0"/>
<rect x="1501.00" y="946.20" width="28.00" height="249.40" fill="#8D9672" stroke="#17120f" stroke-width="2.0"/>
<rect x="1539.00" y="1037.60" width="27.80" height="158.00" fill="#90A3B6" stroke="#17120f" stroke-width="2.0"/>
<rect x="1577.00" y="1000.40" width="28.00" height="195.20" fill="#B5ADC6" stroke="#17120f" stroke-width="2.0"/>
<rect x="1645.40" y="956.20" width="27.80" height="239.40" fill="#E4A86F" stroke="#17120f" stroke-width="2.0"/>
<rect x="1684.00" y="1101.00" width="27.80" height="94.60" fill="#8D9672" stroke="#17120f" stroke-width="2.0"/>
<rect x="1722.20" y="1010.00" width="27.80" height="185.60" fill="#90A3B6" stroke="#17120f" stroke-width="2.0"/>
<rect x="1760.20" y="1039.40" width="28.20" height="156.20" fill="#B5ADC6" stroke="#17120f" stroke-width="2.0"/>
<rect x="1829.00" y="971.70" width="27.80" height="223.90" fill="#E4A86F" stroke="#17120f" stroke-width="2.0"/>
<rect x="1867.20" y="1055.30" width="27.80" height="140.30" fill="#8D9672" stroke="#17120f" stroke-width="2.0"/>
<rect x="1905.30" y="1022.00" width="27.70" height="173.60" fill="#90A3B6" stroke="#17120f" stroke-width="2.0"/>
<rect x="1943.20" y="1037.30" width="28.00" height="158.30" fill="#B5ADC6" stroke="#17120f" stroke-width="2.0"/>
<line x1="1476.80" y1="1079.40" x2="1476.80" y2="1084.60" stroke="#17120f" stroke-width="2.0" stroke-linecap="butt"/>
<line x1="1469.30" y1="1079.40" x2="1484.30" y2="1079.40" stroke="#17120f" stroke-width="2.0" stroke-linecap="butt"/>
<line x1="1514.80" y1="918.00" x2="1514.80" y2="945.20" stroke="#17120f" stroke-width="2.0" stroke-linecap="butt"/>
<line x1="1507.30" y1="918.00" x2="1522.30" y2="918.00" stroke="#17120f" stroke-width="2.0" stroke-linecap="butt"/>
<line x1="1553.00" y1="1030.40" x2="1553.00" y2="1036.60" stroke="#17120f" stroke-width="2.0" stroke-linecap="butt"/>
<line x1="1545.50" y1="1030.40" x2="1560.50" y2="1030.40" stroke="#17120f" stroke-width="2.0" stroke-linecap="butt"/>
<line x1="1591.00" y1="993.40" x2="1591.00" y2="999.40" stroke="#17120f" stroke-width="2.0" stroke-linecap="butt"/>
<line x1="1583.50" y1="993.40" x2="1598.50" y2="993.40" stroke="#17120f" stroke-width="2.0" stroke-linecap="butt"/>
<line x1="1659.20" y1="929.00" x2="1659.20" y2="955.20" stroke="#17120f" stroke-width="2.0" stroke-linecap="butt"/>
<line x1="1651.70" y1="929.00" x2="1666.70" y2="929.00" stroke="#17120f" stroke-width="2.0" stroke-linecap="butt"/>
<line x1="1697.80" y1="1085.40" x2="1697.80" y2="1100.00" stroke="#17120f" stroke-width="2.0" stroke-linecap="butt"/>
<line x1="1690.30" y1="1085.40" x2="1705.30" y2="1085.40" stroke="#17120f" stroke-width="2.0" stroke-linecap="butt"/>
<line x1="1735.80" y1="993.60" x2="1735.80" y2="1009.00" stroke="#17120f" stroke-width="2.0" stroke-linecap="butt"/>
<line x1="1728.30" y1="993.60" x2="1743.30" y2="993.60" stroke="#17120f" stroke-width="2.0" stroke-linecap="butt"/>
<line x1="1773.80" y1="1024.40" x2="1773.80" y2="1038.40" stroke="#17120f" stroke-width="2.0" stroke-linecap="butt"/>
<line x1="1766.30" y1="1024.40" x2="1781.30" y2="1024.40" stroke="#17120f" stroke-width="2.0" stroke-linecap="butt"/>
<line x1="1842.80" y1="960.50" x2="1842.80" y2="970.70" stroke="#17120f" stroke-width="2.0" stroke-linecap="butt"/>
<line x1="1835.30" y1="960.50" x2="1850.30" y2="960.50" stroke="#17120f" stroke-width="2.0" stroke-linecap="butt"/>
<line x1="1881.00" y1="1051.00" x2="1881.00" y2="1054.30" stroke="#17120f" stroke-width="2.0" stroke-linecap="butt"/>
<line x1="1873.50" y1="1051.00" x2="1888.50" y2="1051.00" stroke="#17120f" stroke-width="2.0" stroke-linecap="butt"/>
<line x1="1919.00" y1="1010.50" x2="1919.00" y2="1021.00" stroke="#17120f" stroke-width="2.0" stroke-linecap="butt"/>
<line x1="1911.50" y1="1010.50" x2="1926.50" y2="1010.50" stroke="#17120f" stroke-width="2.0" stroke-linecap="butt"/>
<line x1="1957.20" y1="1028.00" x2="1957.20" y2="1036.30" stroke="#17120f" stroke-width="2.0" stroke-linecap="butt"/>
<line x1="1949.70" y1="1028.00" x2="1964.70" y2="1028.00" stroke="#17120f" stroke-width="2.0" stroke-linecap="butt"/>
<circle cx="1469.40" cy="1079.40" r="3.5" fill="#17120f"/>
<circle cx="1484.00" cy="1084.00" r="3.5" fill="#17120f"/>
<circle cx="1469.40" cy="1089.60" r="3.5" fill="#17120f"/>
<circle cx="1514.80" cy="915.60" r="3.5" fill="#17120f"/>
<circle cx="1514.80" cy="951.00" r="3.5" fill="#17120f"/>
<circle cx="1514.80" cy="967.40" r="3.5" fill="#17120f"/>
<circle cx="1553.00" cy="1029.60" r="3.5" fill="#17120f"/>
<circle cx="1560.00" cy="1038.00" r="3.5" fill="#17120f"/>
<circle cx="1545.40" cy="1041.00" r="3.5" fill="#17120f"/>
<circle cx="1583.60" cy="994.00" r="3.5" fill="#17120f"/>
<circle cx="1598.00" cy="996.40" r="3.5" fill="#17120f"/>
<circle cx="1591.00" cy="1005.00" r="3.5" fill="#17120f"/>
<circle cx="1659.20" cy="926.00" r="3.5" fill="#17120f"/>
<circle cx="1659.20" cy="964.00" r="3.5" fill="#17120f"/>
<circle cx="1659.20" cy="972.40" r="3.5" fill="#17120f"/>
<circle cx="1690.00" cy="1088.60" r="3.5" fill="#17120f"/>
<circle cx="1704.60" cy="1094.60" r="3.5" fill="#17120f"/>
<circle cx="1697.40" cy="1114.00" r="3.5" fill="#17120f"/>
<circle cx="1735.80" cy="992.40" r="3.5" fill="#17120f"/>
<circle cx="1735.80" cy="1011.00" r="3.5" fill="#17120f"/>
<circle cx="1735.80" cy="1022.00" r="3.5" fill="#17120f"/>
<circle cx="1773.80" cy="1026.00" r="3.5" fill="#17120f"/>
<circle cx="1773.80" cy="1035.60" r="3.5" fill="#17120f"/>
<circle cx="1773.80" cy="1051.60" r="3.5" fill="#17120f"/>
<circle cx="1842.80" cy="958.70" r="3.5" fill="#17120f"/>
<circle cx="1850.00" cy="974.00" r="3.5" fill="#17120f"/>
<circle cx="1835.40" cy="977.20" r="3.5" fill="#17120f"/>
<circle cx="1873.70" cy="1049.80" r="3.5" fill="#17120f"/>
<circle cx="1888.20" cy="1053.20" r="3.5" fill="#17120f"/>
<circle cx="1873.70" cy="1058.00" r="3.5" fill="#17120f"/>
<circle cx="1919.00" cy="1008.70" r="3.5" fill="#17120f"/>
<circle cx="1926.00" cy="1023.20" r="3.5" fill="#17120f"/>
<circle cx="1911.50" cy="1028.00" r="3.5" fill="#17120f"/>
<circle cx="1957.20" cy="1026.70" r="3.5" fill="#17120f"/>
<circle cx="1949.70" cy="1042.40" r="3.5" fill="#17120f"/>
<circle cx="1964.30" cy="999.00" r="3.5" fill="#17120f"/>
<text x="1516.30" y="918.71" font-size="29.5" text-anchor="middle" transform="translate(1516.30 918.71) scale(1.0 0.86) translate(-1516.30 -918.71)" stroke="#17120f" stroke-width="0.9" stroke-linejoin="round">****</text>
<text x="1553.00" y="1032.71" font-size="29.5" text-anchor="middle" transform="translate(1553.00 1032.71) scale(1.0 0.86) translate(-1553.00 -1032.71)" stroke="#17120f" stroke-width="0.9" stroke-linejoin="round">*</text>
<text x="1591.00" y="995.11" font-size="29.5" text-anchor="middle" transform="translate(1591.00 995.11) scale(1.0 0.86) translate(-1591.00 -995.11)" stroke="#17120f" stroke-width="0.9" stroke-linejoin="round">***</text>
<text x="1697.00" y="1085.51" font-size="29.5" text-anchor="middle" transform="translate(1697.00 1085.51) scale(1.0 0.86) translate(-1697.00 -1085.51)" stroke="#17120f" stroke-width="0.9" stroke-linejoin="round">****</text>
<text x="1736.00" y="993.51" font-size="29.5" text-anchor="middle" transform="translate(1736.00 993.51) scale(1.0 0.86) translate(-1736.00 -993.51)" stroke="#17120f" stroke-width="0.9" stroke-linejoin="round">*</text>
<text x="1774.50" y="1025.11" font-size="29.5" text-anchor="middle" transform="translate(1774.50 1025.11) scale(1.0 0.86) translate(-1774.50 -1025.11)" stroke="#17120f" stroke-width="0.9" stroke-linejoin="round">**</text>
<text x="1880.50" y="1052.31" font-size="29.5" text-anchor="middle" transform="translate(1880.50 1052.31) scale(1.0 0.86) translate(-1880.50 -1052.31)" stroke="#17120f" stroke-width="0.9" stroke-linejoin="round">****</text>
<text x="1919.50" y="1013.31" font-size="29.5" text-anchor="middle" transform="translate(1919.50 1013.31) scale(1.0 0.86) translate(-1919.50 -1013.31)" stroke="#17120f" stroke-width="0.9" stroke-linejoin="round">****</text>
<text x="1959.00" y="1030.31" font-size="29.5" text-anchor="middle" transform="translate(1959.00 1030.31) scale(1.0 0.86) translate(-1959.00 -1030.31)" stroke="#17120f" stroke-width="0.9" stroke-linejoin="round">****</text>
<line x1="1514.00" y1="842.80" x2="1587.40" y2="842.80" stroke="#17120f" stroke-width="2.2" stroke-linecap="butt"/>
<text x="1556.80" y="845.11" font-size="29.5" text-anchor="middle" transform="translate(1556.80 845.11) scale(1.0 0.86) translate(-1556.80 -845.11)" stroke="#17120f" stroke-width="0.9" stroke-linejoin="round" letter-spacing="4.2">**</text>
<line x1="1512.00" y1="873.00" x2="1550.00" y2="873.00" stroke="#17120f" stroke-width="2.2" stroke-linecap="butt"/>
<text x="1533.50" y="874.11" font-size="29.5" text-anchor="middle" transform="translate(1533.50 874.11) scale(1.0 0.86) translate(-1533.50 -874.11)" stroke="#17120f" stroke-width="0.9" stroke-linejoin="round">***</text>
<line x1="1551.40" y1="932.80" x2="1588.80" y2="932.80" stroke="#17120f" stroke-width="2.2" stroke-linecap="butt"/>
<text x="1571.50" y="934.31" font-size="29.5" text-anchor="middle" transform="translate(1571.50 934.31) scale(1.0 0.86) translate(-1571.50 -934.31)" stroke="#17120f" stroke-width="0.9" stroke-linejoin="round">*</text>
<line x1="1687.00" y1="880.60" x2="1770.00" y2="880.60" stroke="#17120f" stroke-width="2.2" stroke-linecap="butt"/>
<text x="1732.00" y="880.11" font-size="29.5" text-anchor="middle" transform="translate(1732.00 880.11) scale(1.0 0.86) translate(-1732.00 -880.11)" stroke="#17120f" stroke-width="0.9" stroke-linejoin="round">*</text>
<line x1="1689.60" y1="954.20" x2="1733.20" y2="954.20" stroke="#17120f" stroke-width="2.2" stroke-linecap="butt"/>
<text x="1712.00" y="954.71" font-size="29.5" text-anchor="middle" transform="translate(1712.00 954.71) scale(1.0 0.86) translate(-1712.00 -954.71)" stroke="#17120f" stroke-width="0.9" stroke-linejoin="round">***</text>
<line x1="1876.50" y1="902.00" x2="1959.50" y2="902.00" stroke="#17120f" stroke-width="2.2" stroke-linecap="butt"/>
<text x="1915.40" y="904.51" font-size="29.5" text-anchor="middle" transform="translate(1915.40 904.51) scale(1.0 0.86) translate(-1915.40 -904.51)" stroke="#17120f" stroke-width="0.9" stroke-linejoin="round">*</text>
<line x1="1905.20" y1="935.20" x2="1956.20" y2="935.20" stroke="#17120f" stroke-width="2.2" stroke-linecap="butt"/>
<text x="1929.50" y="939.81" font-size="29.5" text-anchor="middle" transform="translate(1929.50 939.81) scale(1.0 0.86) translate(-1929.50 -939.81)" stroke="#17120f" stroke-width="0.9" stroke-linejoin="round">*</text>
<line x1="1879.50" y1="977.50" x2="1917.00" y2="977.50" stroke="#17120f" stroke-width="2.2" stroke-linecap="butt"/>
<text x="1900.00" y="981.11" font-size="29.5" text-anchor="middle" transform="translate(1900.00 981.11) scale(1.0 0.86) translate(-1900.00 -981.11)" stroke="#17120f" stroke-width="0.9" stroke-linejoin="round">***</text>
<line x1="1728.80" y1="928.70" x2="1769.80" y2="928.70" stroke="#17120f" stroke-width="2.2" stroke-linecap="butt"/>
<text x="1749.50" y="923.80" font-size="26" text-anchor="middle" transform="translate(1749.50 923.80) scale(1.07 1.0) translate(-1749.50 -923.80)" stroke="#17120f" stroke-width="0.6" stroke-linejoin="round">ns</text>
</svg>
</body>
</html>
